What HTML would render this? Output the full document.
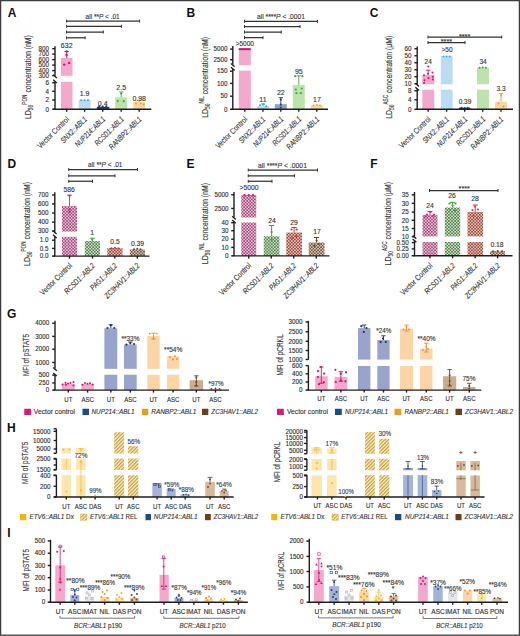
<!DOCTYPE html>
<html><head><meta charset="utf-8"><style>
html,body{margin:0;padding:0;background:#fff;width:520px;height:636px;overflow:hidden}
svg{display:block;font-family:"Liberation Sans",sans-serif}
</style></head><body>
<svg width="520" height="636" viewBox="0 0 520 636">
<defs>
<pattern id="ckM" patternUnits="userSpaceOnUse" width="3.08" height="3.08"><rect width="3.08" height="3.08" fill="#f2c3da"/><rect width="1.54" height="1.54" fill="#9a4876"/><rect x="1.54" y="1.54" width="1.54" height="1.54" fill="#9a4876"/></pattern><pattern id="ckG" patternUnits="userSpaceOnUse" width="3.08" height="3.08"><rect width="3.08" height="3.08" fill="#d3e6c9"/><rect width="1.54" height="1.54" fill="#4f7c49"/><rect x="1.54" y="1.54" width="1.54" height="1.54" fill="#4f7c49"/></pattern><pattern id="ckR" patternUnits="userSpaceOnUse" width="3.08" height="3.08"><rect width="3.08" height="3.08" fill="#f0c2b6"/><rect width="1.54" height="1.54" fill="#8f4a3f"/><rect x="1.54" y="1.54" width="1.54" height="1.54" fill="#8f4a3f"/></pattern><pattern id="ckB" patternUnits="userSpaceOnUse" width="3.08" height="3.08"><rect width="3.08" height="3.08" fill="#e0ccb5"/><rect width="1.54" height="1.54" fill="#6a5242"/><rect x="1.54" y="1.54" width="1.54" height="1.54" fill="#6a5242"/></pattern><pattern id="hatch" patternUnits="userSpaceOnUse" width="2.5" height="2.5" patternTransform="rotate(-45)"><rect width="2.5" height="2.5" fill="#f8edcc"/><rect width="2.5" height="1.15" fill="#c99c2e"/></pattern>
</defs>
<rect x="0" y="0" width="520" height="636" fill="#fff"/>
<text x="7.8" y="17.02" font-size="12" fill="#111" font-weight="bold">A</text>
<line x1="55" y1="46.3" x2="55" y2="75.8" stroke="#1e1e1e" stroke-width="1.4"/>
<line x1="53.2" y1="74.8" x2="56.8" y2="78" stroke="#1e1e1e" stroke-width="1.4"/>
<line x1="55" y1="81.5" x2="55" y2="109.3" stroke="#1e1e1e" stroke-width="1.4"/>
<line x1="53.2" y1="79.7" x2="56.8" y2="82.9" stroke="#1e1e1e" stroke-width="1.4"/>
<line x1="52.2" y1="48.7" x2="55" y2="48.7" stroke="#1e1e1e" stroke-width="1.4"/>
<text x="49.1" y="50.97" font-size="6.3" fill="#2e2e2e" stroke="#2e2e2e" stroke-width="0.12" text-anchor="end">800</text>
<line x1="52.2" y1="54.1" x2="55" y2="54.1" stroke="#1e1e1e" stroke-width="1.4"/>
<text x="49.1" y="56.37" font-size="6.3" fill="#2e2e2e" stroke="#2e2e2e" stroke-width="0.12" text-anchor="end">700</text>
<line x1="52.2" y1="59.6" x2="55" y2="59.6" stroke="#1e1e1e" stroke-width="1.4"/>
<text x="49.1" y="61.87" font-size="6.3" fill="#2e2e2e" stroke="#2e2e2e" stroke-width="0.12" text-anchor="end">600</text>
<line x1="52.2" y1="65.1" x2="55" y2="65.1" stroke="#1e1e1e" stroke-width="1.4"/>
<text x="49.1" y="67.37" font-size="6.3" fill="#2e2e2e" stroke="#2e2e2e" stroke-width="0.12" text-anchor="end">500</text>
<line x1="52.2" y1="70.6" x2="55" y2="70.6" stroke="#1e1e1e" stroke-width="1.4"/>
<text x="49.1" y="72.87" font-size="6.3" fill="#2e2e2e" stroke="#2e2e2e" stroke-width="0.12" text-anchor="end">400</text>
<line x1="52.2" y1="75.6" x2="55" y2="75.6" stroke="#1e1e1e" stroke-width="1.4"/>
<text x="49.1" y="77.87" font-size="6.3" fill="#2e2e2e" stroke="#2e2e2e" stroke-width="0.12" text-anchor="end">300</text>
<line x1="52.2" y1="82.7" x2="55" y2="82.7" stroke="#1e1e1e" stroke-width="1.4"/>
<text x="49.1" y="84.97" font-size="6.3" fill="#2e2e2e" stroke="#2e2e2e" stroke-width="0.12" text-anchor="end">6</text>
<line x1="52.2" y1="91.3" x2="55" y2="91.3" stroke="#1e1e1e" stroke-width="1.4"/>
<text x="49.1" y="93.57" font-size="6.3" fill="#2e2e2e" stroke="#2e2e2e" stroke-width="0.12" text-anchor="end">4</text>
<line x1="52.2" y1="100" x2="55" y2="100" stroke="#1e1e1e" stroke-width="1.4"/>
<text x="49.1" y="102.27" font-size="6.3" fill="#2e2e2e" stroke="#2e2e2e" stroke-width="0.12" text-anchor="end">2</text>
<line x1="52.2" y1="109.3" x2="55" y2="109.3" stroke="#1e1e1e" stroke-width="1.4"/>
<text x="49.1" y="111.57" font-size="6.3" fill="#2e2e2e" stroke="#2e2e2e" stroke-width="0.12" text-anchor="end">0</text>
<rect x="61" y="58" width="11.5" height="17.8" fill="#f4a8cc"/>
<rect x="61" y="81.8" width="11.5" height="27.5" fill="#f4a8cc"/>
<rect x="78.7" y="99.8" width="11.9" height="9.5" fill="#b9dbf4"/>
<rect x="96.8" y="106.8" width="12.5" height="2.5" fill="#1f3f7c"/>
<rect x="115.2" y="97.3" width="12" height="12" fill="#bde3ac"/>
<rect x="133.2" y="102" width="12" height="7.3" fill="#fdd7a3"/>
<line x1="53" y1="109.3" x2="151.3" y2="109.3" stroke="#1e1e1e" stroke-width="1.4"/>
<line x1="66.7" y1="109.3" x2="66.7" y2="111.8" stroke="#1e1e1e" stroke-width="1.4"/>
<line x1="84.6" y1="109.3" x2="84.6" y2="111.8" stroke="#1e1e1e" stroke-width="1.4"/>
<line x1="102.7" y1="109.3" x2="102.7" y2="111.8" stroke="#1e1e1e" stroke-width="1.4"/>
<line x1="121.2" y1="109.3" x2="121.2" y2="111.8" stroke="#1e1e1e" stroke-width="1.4"/>
<line x1="139.2" y1="109.3" x2="139.2" y2="111.8" stroke="#1e1e1e" stroke-width="1.4"/>
<line x1="66.7" y1="51.5" x2="66.7" y2="58" stroke="#d3106c" stroke-width="0.9"/>
<line x1="64.5" y1="51.5" x2="68.9" y2="51.5" stroke="#d3106c" stroke-width="0.9"/>
<circle cx="66.6" cy="51.5" r="1.2" fill="#d3106c"/>
<circle cx="66.6" cy="55" r="1.2" fill="#d3106c"/>
<circle cx="64.2" cy="64.6" r="1.2" fill="#d3106c"/>
<circle cx="69.2" cy="62.9" r="1.2" fill="#d3106c"/>
<circle cx="81.2" cy="100.2" r="1" fill="#3a9fe2"/>
<circle cx="84.6" cy="100.2" r="1" fill="#3a9fe2"/>
<circle cx="88" cy="100.2" r="1" fill="#3a9fe2"/>
<circle cx="99.2" cy="106.7" r="1.1" fill="#1f3f7c"/>
<circle cx="102.7" cy="106.9" r="1.1" fill="#1f3f7c"/>
<circle cx="106.2" cy="106.7" r="1.1" fill="#1f3f7c"/>
<line x1="121.2" y1="92" x2="121.2" y2="97.3" stroke="#43a843" stroke-width="0.9"/>
<line x1="119" y1="92" x2="123.4" y2="92" stroke="#43a843" stroke-width="0.9"/>
<circle cx="121.2" cy="93.6" r="1.1" fill="#43a843"/>
<circle cx="117.8" cy="101.2" r="1.1" fill="#43a843"/>
<circle cx="123.8" cy="101.2" r="1.1" fill="#43a843"/>
<line x1="139.2" y1="100.3" x2="139.2" y2="102" stroke="#f19a1d" stroke-width="0.9"/>
<line x1="137" y1="100.3" x2="141.4" y2="100.3" stroke="#f19a1d" stroke-width="0.9"/>
<circle cx="136" cy="103.5" r="1" fill="#f19a1d"/>
<circle cx="140.8" cy="103.5" r="1" fill="#f19a1d"/>
<circle cx="143.7" cy="104.5" r="1" fill="#f19a1d"/>
<text x="66.7" y="47.52" font-size="7" fill="#333" stroke="#333" stroke-width="0.12" text-anchor="middle">632</text>
<text x="84.6" y="96.12" font-size="7" fill="#333" stroke="#333" stroke-width="0.12" text-anchor="middle">1.9</text>
<text x="102.7" y="105.52" font-size="7" fill="#333" stroke="#333" stroke-width="0.12" text-anchor="middle">0.4</text>
<text x="121.2" y="90.12" font-size="7" fill="#333" stroke="#333" stroke-width="0.12" text-anchor="middle">2.5</text>
<text x="139.2" y="100.52" font-size="7" fill="#333" stroke="#333" stroke-width="0.12" text-anchor="middle">0.98</text>
<line x1="66.6" y1="21.1" x2="139.6" y2="21.1" stroke="#333" stroke-width="1.25"/>
<line x1="66.6" y1="19.6" x2="66.6" y2="22.6" stroke="#333" stroke-width="1"/>
<line x1="139.6" y1="19.6" x2="139.6" y2="22.6" stroke="#333" stroke-width="1"/>
<line x1="66.6" y1="26.3" x2="121.4" y2="26.3" stroke="#333" stroke-width="1.25"/>
<line x1="66.6" y1="24.8" x2="66.6" y2="27.8" stroke="#333" stroke-width="1"/>
<line x1="121.4" y1="24.8" x2="121.4" y2="27.8" stroke="#333" stroke-width="1"/>
<line x1="66.6" y1="32" x2="103.3" y2="32" stroke="#333" stroke-width="1.25"/>
<line x1="66.6" y1="30.5" x2="66.6" y2="33.5" stroke="#333" stroke-width="1"/>
<line x1="103.3" y1="30.5" x2="103.3" y2="33.5" stroke="#333" stroke-width="1"/>
<line x1="66.6" y1="37.8" x2="85.1" y2="37.8" stroke="#333" stroke-width="1.25"/>
<line x1="66.6" y1="36.3" x2="66.6" y2="39.3" stroke="#333" stroke-width="1"/>
<line x1="85.1" y1="36.3" x2="85.1" y2="39.3" stroke="#333" stroke-width="1"/>
<text x="85.6" y="18.58" font-size="6.9" fill="#333" stroke="#333" stroke-width="0.12" textLength="34.1" lengthAdjust="spacingAndGlyphs">all **<tspan font-style="italic">P</tspan> &lt; .01</text>
<text x="119" y="30.8" font-size="9.3" fill="#333" stroke="#333" stroke-width="0.12" transform="translate(30.8 119) rotate(-90) translate(-119 -30.8)" textLength="83.9" lengthAdjust="spacingAndGlyphs"><tspan>LD</tspan><tspan font-size="6.7" dy="2.23">50</tspan><tspan font-size="6.32" dy="-6.32">PON</tspan><tspan dy="4.09"> concentration (nM)</tspan></text>
<text x="69.7" y="119.8" font-size="8" fill="#333" stroke="#333" stroke-width="0.12" text-anchor="end" transform="rotate(-45 69.7 119.8)" textLength="41.24" lengthAdjust="spacingAndGlyphs">Vector Control</text>
<text x="87.6" y="119.8" font-size="8" fill="#333" stroke="#333" stroke-width="0.12" text-anchor="end" transform="rotate(-45 87.6 119.8)" textLength="33.75" lengthAdjust="spacingAndGlyphs" font-style="italic">SNX2::ABL1</text>
<text x="105.7" y="119.8" font-size="8" fill="#333" stroke="#333" stroke-width="0.12" text-anchor="end" transform="rotate(-45 105.7 119.8)" textLength="39.12" lengthAdjust="spacingAndGlyphs" font-style="italic">NUP214::ABL1</text>
<text x="124.2" y="119.8" font-size="8" fill="#333" stroke="#333" stroke-width="0.12" text-anchor="end" transform="rotate(-45 124.2 119.8)" textLength="37.28" lengthAdjust="spacingAndGlyphs" font-style="italic">RCSD1::ABL1</text>
<text x="142.2" y="119.8" font-size="8" fill="#333" stroke="#333" stroke-width="0.12" text-anchor="end" transform="rotate(-45 142.2 119.8)" textLength="42.66" lengthAdjust="spacingAndGlyphs" font-style="italic">RANBP2::ABL1</text>
<text x="186.6" y="16.92" font-size="12" fill="#111" font-weight="bold">B</text>
<line x1="232.8" y1="46" x2="232.8" y2="64.5" stroke="#1e1e1e" stroke-width="1.4"/>
<line x1="231" y1="63.5" x2="234.6" y2="66.7" stroke="#1e1e1e" stroke-width="1.4"/>
<line x1="232.8" y1="69" x2="232.8" y2="109.3" stroke="#1e1e1e" stroke-width="1.4"/>
<line x1="231" y1="67.2" x2="234.6" y2="70.4" stroke="#1e1e1e" stroke-width="1.4"/>
<line x1="230" y1="49.1" x2="232.8" y2="49.1" stroke="#1e1e1e" stroke-width="1.4"/>
<text x="227.5" y="51.37" font-size="6.3" fill="#2e2e2e" stroke="#2e2e2e" stroke-width="0.12" text-anchor="end">5000</text>
<line x1="230" y1="59.7" x2="232.8" y2="59.7" stroke="#1e1e1e" stroke-width="1.4"/>
<text x="227.5" y="61.97" font-size="6.3" fill="#2e2e2e" stroke="#2e2e2e" stroke-width="0.12" text-anchor="end">2500</text>
<line x1="230" y1="71.2" x2="232.8" y2="71.2" stroke="#1e1e1e" stroke-width="1.4"/>
<text x="227.5" y="73.47" font-size="6.3" fill="#2e2e2e" stroke="#2e2e2e" stroke-width="0.12" text-anchor="end">150</text>
<line x1="230" y1="83.4" x2="232.8" y2="83.4" stroke="#1e1e1e" stroke-width="1.4"/>
<text x="227.5" y="85.67" font-size="6.3" fill="#2e2e2e" stroke="#2e2e2e" stroke-width="0.12" text-anchor="end">100</text>
<line x1="230" y1="96.2" x2="232.8" y2="96.2" stroke="#1e1e1e" stroke-width="1.4"/>
<text x="227.5" y="98.47" font-size="6.3" fill="#2e2e2e" stroke="#2e2e2e" stroke-width="0.12" text-anchor="end">50</text>
<line x1="230" y1="109.3" x2="232.8" y2="109.3" stroke="#1e1e1e" stroke-width="1.4"/>
<text x="227.5" y="111.57" font-size="6.3" fill="#2e2e2e" stroke="#2e2e2e" stroke-width="0.12" text-anchor="end">0</text>
<rect x="238.8" y="48.2" width="12" height="17" fill="#f4a8cc"/>
<rect x="238.8" y="70.6" width="12" height="38.7" fill="#f4a8cc"/>
<rect x="238.8" y="48.2" width="12" height="1.9" fill="#d3106c"/>
<rect x="256.9" y="106.2" width="12" height="3.1" fill="#b9dbf4"/>
<rect x="274.8" y="104.2" width="12" height="5.1" fill="#8ea0c8"/>
<rect x="292.8" y="85" width="12" height="24.3" fill="#bde3ac"/>
<rect x="310.8" y="105.3" width="12" height="4" fill="#fdd7a3"/>
<line x1="231.5" y1="109.3" x2="328" y2="109.3" stroke="#1e1e1e" stroke-width="1.4"/>
<line x1="244.8" y1="109.3" x2="244.8" y2="111.8" stroke="#1e1e1e" stroke-width="1.4"/>
<line x1="262.9" y1="109.3" x2="262.9" y2="111.8" stroke="#1e1e1e" stroke-width="1.4"/>
<line x1="280.8" y1="109.3" x2="280.8" y2="111.8" stroke="#1e1e1e" stroke-width="1.4"/>
<line x1="298.8" y1="109.3" x2="298.8" y2="111.8" stroke="#1e1e1e" stroke-width="1.4"/>
<line x1="316.8" y1="109.3" x2="316.8" y2="111.8" stroke="#1e1e1e" stroke-width="1.4"/>
<line x1="262.9" y1="104" x2="262.9" y2="106.2" stroke="#3a9fe2" stroke-width="0.9"/>
<line x1="260.7" y1="104" x2="265.1" y2="104" stroke="#3a9fe2" stroke-width="0.9"/>
<circle cx="260" cy="105.2" r="1" fill="#3a9fe2"/>
<circle cx="263.5" cy="104.3" r="1" fill="#3a9fe2"/>
<circle cx="266.2" cy="106.2" r="1" fill="#3a9fe2"/>
<line x1="280.8" y1="97.7" x2="280.8" y2="104.2" stroke="#1f3f7c" stroke-width="0.9"/>
<line x1="278.6" y1="97.7" x2="283" y2="97.7" stroke="#1f3f7c" stroke-width="0.9"/>
<circle cx="280.8" cy="99.6" r="1.1" fill="#1f3f7c"/>
<circle cx="280.8" cy="104.6" r="1.1" fill="#1f3f7c"/>
<circle cx="280.8" cy="107.6" r="1.1" fill="#1f3f7c"/>
<line x1="298.8" y1="75.8" x2="298.8" y2="85" stroke="#43a843" stroke-width="0.9"/>
<line x1="296.6" y1="75.8" x2="301" y2="75.8" stroke="#43a843" stroke-width="0.9"/>
<circle cx="295.2" cy="76.2" r="1.1" fill="#43a843"/>
<circle cx="302.4" cy="76.2" r="1.1" fill="#43a843"/>
<circle cx="295.8" cy="89.5" r="1.1" fill="#43a843"/>
<circle cx="301.8" cy="88.5" r="1.1" fill="#43a843"/>
<circle cx="296.5" cy="93.2" r="1.1" fill="#43a843"/>
<circle cx="300.8" cy="93.2" r="1.1" fill="#43a843"/>
<circle cx="313.5" cy="105.6" r="1" fill="#f19a1d"/>
<circle cx="316.8" cy="105" r="1" fill="#f19a1d"/>
<circle cx="320" cy="105.6" r="1" fill="#f19a1d"/>
<text x="244.8" y="45.74" font-size="6.5" fill="#333" stroke="#333" stroke-width="0.12" text-anchor="middle">&gt;5000</text>
<text x="263" y="101.72" font-size="7" fill="#333" stroke="#333" stroke-width="0.12" text-anchor="middle">11</text>
<text x="280.8" y="94.82" font-size="7" fill="#333" stroke="#333" stroke-width="0.12" text-anchor="middle">22</text>
<text x="298.8" y="74.02" font-size="7" fill="#333" stroke="#333" stroke-width="0.12" text-anchor="middle">95</text>
<text x="317" y="101.72" font-size="7" fill="#333" stroke="#333" stroke-width="0.12" text-anchor="middle">17</text>
<line x1="244.5" y1="21.3" x2="317.5" y2="21.3" stroke="#333" stroke-width="1.25"/>
<line x1="244.5" y1="19.8" x2="244.5" y2="22.8" stroke="#333" stroke-width="1"/>
<line x1="317.5" y1="19.8" x2="317.5" y2="22.8" stroke="#333" stroke-width="1"/>
<line x1="244.5" y1="26.5" x2="300" y2="26.5" stroke="#333" stroke-width="1.25"/>
<line x1="244.5" y1="25" x2="244.5" y2="28" stroke="#333" stroke-width="1"/>
<line x1="300" y1="25" x2="300" y2="28" stroke="#333" stroke-width="1"/>
<line x1="244.5" y1="32" x2="281.3" y2="32" stroke="#333" stroke-width="1.25"/>
<line x1="244.5" y1="30.5" x2="244.5" y2="33.5" stroke="#333" stroke-width="1"/>
<line x1="281.3" y1="30.5" x2="281.3" y2="33.5" stroke="#333" stroke-width="1"/>
<line x1="244.5" y1="37.6" x2="263" y2="37.6" stroke="#333" stroke-width="1.25"/>
<line x1="244.5" y1="36.1" x2="244.5" y2="39.1" stroke="#333" stroke-width="1"/>
<line x1="263" y1="36.1" x2="263" y2="39.1" stroke="#333" stroke-width="1"/>
<text x="257" y="18.58" font-size="6.9" fill="#333" stroke="#333" stroke-width="0.12" textLength="48" lengthAdjust="spacingAndGlyphs">all ****<tspan font-style="italic">P</tspan> &lt; .0001</text>
<text x="117.8" y="207.9" font-size="9.3" fill="#333" stroke="#333" stroke-width="0.12" transform="translate(207.9 117.8) rotate(-90) translate(-117.8 -207.9)" textLength="80.8" lengthAdjust="spacingAndGlyphs"><tspan>LD</tspan><tspan font-size="6.7" dy="2.23">50</tspan><tspan font-size="6.32" dy="-6.32">NIL</tspan><tspan dy="4.09"> concentration (nM)</tspan></text>
<text x="247.8" y="119.8" font-size="8" fill="#333" stroke="#333" stroke-width="0.12" text-anchor="end" transform="rotate(-45 247.8 119.8)" textLength="41.24" lengthAdjust="spacingAndGlyphs">Vector Control</text>
<text x="265.9" y="119.8" font-size="8" fill="#333" stroke="#333" stroke-width="0.12" text-anchor="end" transform="rotate(-45 265.9 119.8)" textLength="33.75" lengthAdjust="spacingAndGlyphs" font-style="italic">SNX2::ABL1</text>
<text x="283.8" y="119.8" font-size="8" fill="#333" stroke="#333" stroke-width="0.12" text-anchor="end" transform="rotate(-45 283.8 119.8)" textLength="39.12" lengthAdjust="spacingAndGlyphs" font-style="italic">NUP214::ABL1</text>
<text x="301.8" y="119.8" font-size="8" fill="#333" stroke="#333" stroke-width="0.12" text-anchor="end" transform="rotate(-45 301.8 119.8)" textLength="37.28" lengthAdjust="spacingAndGlyphs" font-style="italic">RCSD1::ABL1</text>
<text x="319.8" y="119.8" font-size="8" fill="#333" stroke="#333" stroke-width="0.12" text-anchor="end" transform="rotate(-45 319.8 119.8)" textLength="42.66" lengthAdjust="spacingAndGlyphs" font-style="italic">RANBP2::ABL1</text>
<text x="369.7" y="16.92" font-size="12" fill="#111" font-weight="bold">C</text>
<line x1="417.2" y1="46.5" x2="417.2" y2="84.3" stroke="#1e1e1e" stroke-width="1.4"/>
<line x1="415.4" y1="83.3" x2="419" y2="86.5" stroke="#1e1e1e" stroke-width="1.4"/>
<line x1="417.2" y1="89" x2="417.2" y2="109.3" stroke="#1e1e1e" stroke-width="1.4"/>
<line x1="415.4" y1="87.2" x2="419" y2="90.4" stroke="#1e1e1e" stroke-width="1.4"/>
<line x1="414.4" y1="48.75" x2="417.2" y2="48.75" stroke="#1e1e1e" stroke-width="1.4"/>
<text x="411.5" y="51.02" font-size="6.3" fill="#2e2e2e" stroke="#2e2e2e" stroke-width="0.12" text-anchor="end">60</text>
<line x1="414.4" y1="55.75" x2="417.2" y2="55.75" stroke="#1e1e1e" stroke-width="1.4"/>
<text x="411.5" y="58.02" font-size="6.3" fill="#2e2e2e" stroke="#2e2e2e" stroke-width="0.12" text-anchor="end">50</text>
<line x1="414.4" y1="62.75" x2="417.2" y2="62.75" stroke="#1e1e1e" stroke-width="1.4"/>
<text x="411.5" y="65.02" font-size="6.3" fill="#2e2e2e" stroke="#2e2e2e" stroke-width="0.12" text-anchor="end">40</text>
<line x1="414.4" y1="69.75" x2="417.2" y2="69.75" stroke="#1e1e1e" stroke-width="1.4"/>
<text x="411.5" y="72.02" font-size="6.3" fill="#2e2e2e" stroke="#2e2e2e" stroke-width="0.12" text-anchor="end">30</text>
<line x1="414.4" y1="76.75" x2="417.2" y2="76.75" stroke="#1e1e1e" stroke-width="1.4"/>
<text x="411.5" y="79.02" font-size="6.3" fill="#2e2e2e" stroke="#2e2e2e" stroke-width="0.12" text-anchor="end">20</text>
<line x1="414.4" y1="83.75" x2="417.2" y2="83.75" stroke="#1e1e1e" stroke-width="1.4"/>
<text x="411.5" y="86.02" font-size="6.3" fill="#2e2e2e" stroke="#2e2e2e" stroke-width="0.12" text-anchor="end">10</text>
<line x1="414.4" y1="90.75" x2="417.2" y2="90.75" stroke="#1e1e1e" stroke-width="1.4"/>
<text x="411.5" y="93.02" font-size="6.3" fill="#2e2e2e" stroke="#2e2e2e" stroke-width="0.12" text-anchor="end">8</text>
<line x1="414.4" y1="99.75" x2="417.2" y2="99.75" stroke="#1e1e1e" stroke-width="1.4"/>
<text x="411.5" y="102.02" font-size="6.3" fill="#2e2e2e" stroke="#2e2e2e" stroke-width="0.12" text-anchor="end">4</text>
<line x1="414.4" y1="109.3" x2="417.2" y2="109.3" stroke="#1e1e1e" stroke-width="1.4"/>
<text x="411.5" y="111.57" font-size="6.3" fill="#2e2e2e" stroke="#2e2e2e" stroke-width="0.12" text-anchor="end">0</text>
<rect x="422.3" y="75" width="12" height="9.3" fill="#f4a8cc"/>
<rect x="422.3" y="89.7" width="12" height="19.6" fill="#f4a8cc"/>
<rect x="440.8" y="56.2" width="11.8" height="28.1" fill="#b9dbf4"/>
<rect x="440.8" y="89.7" width="11.8" height="19.6" fill="#b9dbf4"/>
<rect x="458.9" y="107.6" width="11.6" height="1.7" fill="#1f3f7c"/>
<rect x="477" y="67.6" width="12" height="16.7" fill="#bde3ac"/>
<rect x="477" y="89.7" width="12" height="19.6" fill="#bde3ac"/>
<rect x="495" y="101.9" width="12" height="7.4" fill="#fdd7a3"/>
<line x1="415.8" y1="109.3" x2="513" y2="109.3" stroke="#1e1e1e" stroke-width="1.4"/>
<line x1="428.2" y1="109.3" x2="428.2" y2="111.8" stroke="#1e1e1e" stroke-width="1.4"/>
<line x1="446.6" y1="109.3" x2="446.6" y2="111.8" stroke="#1e1e1e" stroke-width="1.4"/>
<line x1="464.7" y1="109.3" x2="464.7" y2="111.8" stroke="#1e1e1e" stroke-width="1.4"/>
<line x1="482.7" y1="109.3" x2="482.7" y2="111.8" stroke="#1e1e1e" stroke-width="1.4"/>
<line x1="501" y1="109.3" x2="501" y2="111.8" stroke="#1e1e1e" stroke-width="1.4"/>
<line x1="428.2" y1="70.2" x2="428.2" y2="74.5" stroke="#d3106c" stroke-width="0.9"/>
<line x1="426" y1="70.2" x2="430.4" y2="70.2" stroke="#d3106c" stroke-width="0.9"/>
<circle cx="428.2" cy="66.6" r="1" fill="#d3106c"/>
<circle cx="424" cy="75.3" r="1" fill="#d3106c"/>
<circle cx="428" cy="73.8" r="1" fill="#d3106c"/>
<circle cx="432.5" cy="72.4" r="1" fill="#d3106c"/>
<circle cx="424.5" cy="80.3" r="1" fill="#d3106c"/>
<circle cx="428.5" cy="78.1" r="1" fill="#d3106c"/>
<circle cx="432.8" cy="76.7" r="1" fill="#d3106c"/>
<circle cx="432.8" cy="79.5" r="1" fill="#d3106c"/>
<circle cx="424" cy="83" r="1" fill="#d3106c"/>
<circle cx="443.5" cy="56.4" r="0.9" fill="#3a9fe2"/>
<circle cx="446.6" cy="56.4" r="0.9" fill="#3a9fe2"/>
<circle cx="449.7" cy="56.4" r="0.9" fill="#3a9fe2"/>
<circle cx="461.5" cy="107.6" r="0.9" fill="#1f3f7c"/>
<circle cx="464.7" cy="107.8" r="0.9" fill="#1f3f7c"/>
<circle cx="467.8" cy="107.6" r="0.9" fill="#1f3f7c"/>
<circle cx="479.6" cy="67.8" r="1" fill="#43a843"/>
<circle cx="482.7" cy="67.6" r="1" fill="#43a843"/>
<circle cx="485.8" cy="67.8" r="1" fill="#43a843"/>
<line x1="501" y1="93.6" x2="501" y2="101.9" stroke="#f19a1d" stroke-width="0.9"/>
<line x1="498.8" y1="93.6" x2="503.2" y2="93.6" stroke="#f19a1d" stroke-width="0.9"/>
<circle cx="501" cy="95.6" r="1" fill="#f19a1d"/>
<circle cx="498.5" cy="103.5" r="1" fill="#f19a1d"/>
<circle cx="503.5" cy="106.5" r="1" fill="#f19a1d"/>
<text x="428.2" y="64.34" font-size="6.5" fill="#333" stroke="#333" stroke-width="0.12" text-anchor="middle">24</text>
<text x="447" y="52.04" font-size="6.5" fill="#333" stroke="#333" stroke-width="0.12" text-anchor="middle">&gt;50</text>
<text x="465" y="103.54" font-size="6.5" fill="#333" stroke="#333" stroke-width="0.12" text-anchor="middle">0.39</text>
<text x="483" y="64.34" font-size="6.5" fill="#333" stroke="#333" stroke-width="0.12" text-anchor="middle">34</text>
<text x="501" y="91.34" font-size="6.5" fill="#333" stroke="#333" stroke-width="0.12" text-anchor="middle">3.3</text>
<line x1="428" y1="37" x2="501.7" y2="37" stroke="#333" stroke-width="1.25"/>
<line x1="428" y1="35.5" x2="428" y2="38.5" stroke="#333" stroke-width="1"/>
<line x1="501.7" y1="35.5" x2="501.7" y2="38.5" stroke="#333" stroke-width="1"/>
<line x1="428" y1="42.5" x2="465" y2="42.5" stroke="#333" stroke-width="1.25"/>
<line x1="428" y1="41" x2="428" y2="44" stroke="#333" stroke-width="1"/>
<line x1="465" y1="41" x2="465" y2="44" stroke="#333" stroke-width="1"/>
<text x="464.6" y="38.6" font-size="7.2" fill="#333" stroke="#333" stroke-width="0.12" text-anchor="middle" textLength="11.2" lengthAdjust="spacingAndGlyphs">****</text>
<text x="446.4" y="44" font-size="7.2" fill="#333" stroke="#333" stroke-width="0.12" text-anchor="middle" textLength="11.2" lengthAdjust="spacingAndGlyphs">****</text>
<text x="118.8" y="391.8" font-size="9.3" fill="#333" stroke="#333" stroke-width="0.12" transform="translate(391.8 118.8) rotate(-90) translate(-118.8 -391.8)" textLength="83" lengthAdjust="spacingAndGlyphs"><tspan>LD</tspan><tspan font-size="6.7" dy="2.23">50</tspan><tspan font-size="6.32" dy="-6.32">ASC</tspan><tspan dy="4.09"> concentration (μM)</tspan></text>
<text x="431.2" y="119.8" font-size="8" fill="#333" stroke="#333" stroke-width="0.12" text-anchor="end" transform="rotate(-45 431.2 119.8)" textLength="40.89" lengthAdjust="spacingAndGlyphs">Vector Control</text>
<text x="449.6" y="119.8" font-size="8" fill="#333" stroke="#333" stroke-width="0.12" text-anchor="end" transform="rotate(-45 449.6 119.8)" textLength="33.82" lengthAdjust="spacingAndGlyphs" font-style="italic">SNX2::ABL1</text>
<text x="467.7" y="119.8" font-size="8" fill="#333" stroke="#333" stroke-width="0.12" text-anchor="end" transform="rotate(-45 467.7 119.8)" textLength="39.12" lengthAdjust="spacingAndGlyphs" font-style="italic">NUP214::ABL1</text>
<text x="485.7" y="119.8" font-size="8" fill="#333" stroke="#333" stroke-width="0.12" text-anchor="end" transform="rotate(-45 485.7 119.8)" textLength="37.35" lengthAdjust="spacingAndGlyphs" font-style="italic">RCSD1::ABL1</text>
<text x="504" y="119.8" font-size="8" fill="#333" stroke="#333" stroke-width="0.12" text-anchor="end" transform="rotate(-45 504 119.8)" textLength="42.66" lengthAdjust="spacingAndGlyphs" font-style="italic">RANBP2::ABL1</text>
<text x="7.5" y="167.92" font-size="12" fill="#111" font-weight="bold">D</text>
<line x1="54.8" y1="192.3" x2="54.8" y2="231.8" stroke="#1e1e1e" stroke-width="1.4"/>
<line x1="53" y1="230.8" x2="56.6" y2="234" stroke="#1e1e1e" stroke-width="1.4"/>
<line x1="54.8" y1="236.5" x2="54.8" y2="256.1" stroke="#1e1e1e" stroke-width="1.4"/>
<line x1="53" y1="234.7" x2="56.6" y2="237.9" stroke="#1e1e1e" stroke-width="1.4"/>
<line x1="52" y1="195" x2="54.8" y2="195" stroke="#1e1e1e" stroke-width="1.4"/>
<text x="48.6" y="197.27" font-size="6.3" fill="#2e2e2e" stroke="#2e2e2e" stroke-width="0.12" text-anchor="end">700</text>
<line x1="52" y1="203.9" x2="54.8" y2="203.9" stroke="#1e1e1e" stroke-width="1.4"/>
<text x="48.6" y="206.17" font-size="6.3" fill="#2e2e2e" stroke="#2e2e2e" stroke-width="0.12" text-anchor="end">600</text>
<line x1="52" y1="213" x2="54.8" y2="213" stroke="#1e1e1e" stroke-width="1.4"/>
<text x="48.6" y="215.27" font-size="6.3" fill="#2e2e2e" stroke="#2e2e2e" stroke-width="0.12" text-anchor="end">500</text>
<line x1="52" y1="222.1" x2="54.8" y2="222.1" stroke="#1e1e1e" stroke-width="1.4"/>
<text x="48.6" y="224.37" font-size="6.3" fill="#2e2e2e" stroke="#2e2e2e" stroke-width="0.12" text-anchor="end">400</text>
<line x1="52" y1="231" x2="54.8" y2="231" stroke="#1e1e1e" stroke-width="1.4"/>
<text x="48.6" y="233.27" font-size="6.3" fill="#2e2e2e" stroke="#2e2e2e" stroke-width="0.12" text-anchor="end">300</text>
<line x1="52" y1="240.2" x2="54.8" y2="240.2" stroke="#1e1e1e" stroke-width="1.4"/>
<text x="48.6" y="242.47" font-size="6.3" fill="#2e2e2e" stroke="#2e2e2e" stroke-width="0.12" text-anchor="end">1.0</text>
<line x1="52" y1="248.4" x2="54.8" y2="248.4" stroke="#1e1e1e" stroke-width="1.4"/>
<text x="48.6" y="250.67" font-size="6.3" fill="#2e2e2e" stroke="#2e2e2e" stroke-width="0.12" text-anchor="end">0.5</text>
<line x1="52" y1="256.1" x2="54.8" y2="256.1" stroke="#1e1e1e" stroke-width="1.4"/>
<text x="48.6" y="258.37" font-size="6.3" fill="#2e2e2e" stroke="#2e2e2e" stroke-width="0.12" text-anchor="end">0.0</text>
<rect x="62" y="206" width="15" height="25.6" fill="url(#ckM)"/>
<rect x="62" y="236.8" width="15" height="19.3" fill="url(#ckM)"/>
<rect x="84.8" y="241" width="15.2" height="15.1" fill="url(#ckG)"/>
<rect x="107.3" y="248" width="15.2" height="8.1" fill="url(#ckR)"/>
<rect x="129.8" y="249.5" width="15.2" height="6.6" fill="url(#ckB)"/>
<line x1="53.5" y1="256.1" x2="149.5" y2="256.1" stroke="#1e1e1e" stroke-width="1.4"/>
<line x1="69.5" y1="256.1" x2="69.5" y2="258.6" stroke="#1e1e1e" stroke-width="1.4"/>
<line x1="92.5" y1="256.1" x2="92.5" y2="258.6" stroke="#1e1e1e" stroke-width="1.4"/>
<line x1="114.8" y1="256.1" x2="114.8" y2="258.6" stroke="#1e1e1e" stroke-width="1.4"/>
<line x1="137.3" y1="256.1" x2="137.3" y2="258.6" stroke="#1e1e1e" stroke-width="1.4"/>
<line x1="69.5" y1="195.2" x2="69.5" y2="206" stroke="#e0207e" stroke-width="0.9"/>
<line x1="67.1" y1="195.2" x2="71.9" y2="195.2" stroke="#e0207e" stroke-width="0.9"/>
<circle cx="69.5" cy="195.6" r="1.2" fill="#e0207e"/>
<circle cx="69.5" cy="209.5" r="1.2" fill="#e0207e"/>
<circle cx="69.5" cy="212" r="1.2" fill="#e0207e"/>
<line x1="92.3" y1="238.2" x2="92.3" y2="241" stroke="#3aa53a" stroke-width="1"/>
<line x1="89.8" y1="238.2" x2="94.8" y2="238.2" stroke="#3aa53a" stroke-width="1"/>
<circle cx="92.3" cy="239.5" r="1.1" fill="#3aa53a"/>
<circle cx="111.5" cy="248.3" r="1" fill="#e03040"/>
<circle cx="115" cy="247.7" r="1" fill="#e03040"/>
<circle cx="118.5" cy="248.3" r="1" fill="#e03040"/>
<circle cx="134" cy="249.3" r="1" fill="#6a4020"/>
<circle cx="137.3" cy="248.8" r="1" fill="#6a4020"/>
<circle cx="140.5" cy="249.3" r="1" fill="#6a4020"/>
<text x="69.1" y="191.95" font-size="6.8" fill="#333" stroke="#333" stroke-width="0.12" text-anchor="middle">586</text>
<text x="92.2" y="235.05" font-size="6.8" fill="#333" stroke="#333" stroke-width="0.12" text-anchor="middle">1</text>
<text x="115" y="243.85" font-size="6.8" fill="#333" stroke="#333" stroke-width="0.12" text-anchor="middle">0.5</text>
<text x="137.5" y="246.05" font-size="6.8" fill="#333" stroke="#333" stroke-width="0.12" text-anchor="middle">0.39</text>
<line x1="68.75" y1="169.5" x2="137.5" y2="169.5" stroke="#333" stroke-width="1.25"/>
<line x1="68.75" y1="168" x2="68.75" y2="171" stroke="#333" stroke-width="1"/>
<line x1="137.5" y1="168" x2="137.5" y2="171" stroke="#333" stroke-width="1"/>
<line x1="68.75" y1="175.75" x2="115" y2="175.75" stroke="#333" stroke-width="1.25"/>
<line x1="68.75" y1="174.25" x2="68.75" y2="177.25" stroke="#333" stroke-width="1"/>
<line x1="115" y1="174.25" x2="115" y2="177.25" stroke="#333" stroke-width="1"/>
<line x1="68.75" y1="181.25" x2="92.5" y2="181.25" stroke="#333" stroke-width="1.25"/>
<line x1="68.75" y1="179.75" x2="68.75" y2="182.75" stroke="#333" stroke-width="1"/>
<line x1="92.5" y1="179.75" x2="92.5" y2="182.75" stroke="#333" stroke-width="1"/>
<text x="88" y="167.28" font-size="6.9" fill="#333" stroke="#333" stroke-width="0.12" textLength="34.5" lengthAdjust="spacingAndGlyphs">all **<tspan font-style="italic">P</tspan> &lt; .01</text>
<text x="265.9" y="29.9" font-size="9.3" fill="#333" stroke="#333" stroke-width="0.12" transform="translate(29.9 265.9) rotate(-90) translate(-265.9 -29.9)" textLength="83.9" lengthAdjust="spacingAndGlyphs"><tspan>LD</tspan><tspan font-size="6.7" dy="2.23">50</tspan><tspan font-size="6.32" dy="-6.32">PON</tspan><tspan dy="4.09"> concentration (nM)</tspan></text>
<text x="72.5" y="266.3" font-size="8" fill="#333" stroke="#333" stroke-width="0.12" text-anchor="end" transform="rotate(-45 72.5 266.3)" textLength="41.66" lengthAdjust="spacingAndGlyphs">Vector Control</text>
<text x="95.5" y="266.3" font-size="8" fill="#333" stroke="#333" stroke-width="0.12" text-anchor="end" transform="rotate(-45 95.5 266.3)" textLength="39.89" lengthAdjust="spacingAndGlyphs" font-style="italic">RCSD1::ABL2</text>
<text x="117.8" y="266.3" font-size="8" fill="#333" stroke="#333" stroke-width="0.12" text-anchor="end" transform="rotate(-45 117.8 266.3)" textLength="34.59" lengthAdjust="spacingAndGlyphs" font-style="italic">PAG1::ABL2</text>
<text x="140.3" y="266.3" font-size="8" fill="#333" stroke="#333" stroke-width="0.12" text-anchor="end" transform="rotate(-45 140.3 266.3)" textLength="46.26" lengthAdjust="spacingAndGlyphs" font-style="italic">ZC3HAV1::ABL2</text>
<text x="186.4" y="168.02" font-size="12" fill="#111" font-weight="bold">E</text>
<line x1="234" y1="192" x2="234" y2="217.3" stroke="#1e1e1e" stroke-width="1.4"/>
<line x1="232.2" y1="216.3" x2="235.8" y2="219.5" stroke="#1e1e1e" stroke-width="1.4"/>
<line x1="234" y1="221.8" x2="234" y2="255.9" stroke="#1e1e1e" stroke-width="1.4"/>
<line x1="232.2" y1="220" x2="235.8" y2="223.2" stroke="#1e1e1e" stroke-width="1.4"/>
<line x1="231.2" y1="194.8" x2="234" y2="194.8" stroke="#1e1e1e" stroke-width="1.4"/>
<text x="228.5" y="197.07" font-size="6.3" fill="#2e2e2e" stroke="#2e2e2e" stroke-width="0.12" text-anchor="end">5000</text>
<line x1="231.2" y1="208.5" x2="234" y2="208.5" stroke="#1e1e1e" stroke-width="1.4"/>
<text x="228.5" y="210.77" font-size="6.3" fill="#2e2e2e" stroke="#2e2e2e" stroke-width="0.12" text-anchor="end">2500</text>
<line x1="231.2" y1="222.7" x2="234" y2="222.7" stroke="#1e1e1e" stroke-width="1.4"/>
<text x="228.5" y="224.97" font-size="6.3" fill="#2e2e2e" stroke="#2e2e2e" stroke-width="0.12" text-anchor="end">40</text>
<line x1="231.2" y1="230.7" x2="234" y2="230.7" stroke="#1e1e1e" stroke-width="1.4"/>
<text x="228.5" y="232.97" font-size="6.3" fill="#2e2e2e" stroke="#2e2e2e" stroke-width="0.12" text-anchor="end">30</text>
<line x1="231.2" y1="239.2" x2="234" y2="239.2" stroke="#1e1e1e" stroke-width="1.4"/>
<text x="228.5" y="241.47" font-size="6.3" fill="#2e2e2e" stroke="#2e2e2e" stroke-width="0.12" text-anchor="end">20</text>
<line x1="231.2" y1="247.4" x2="234" y2="247.4" stroke="#1e1e1e" stroke-width="1.4"/>
<text x="228.5" y="249.67" font-size="6.3" fill="#2e2e2e" stroke="#2e2e2e" stroke-width="0.12" text-anchor="end">10</text>
<line x1="231.2" y1="255.8" x2="234" y2="255.8" stroke="#1e1e1e" stroke-width="1.4"/>
<text x="228.5" y="258.07" font-size="6.3" fill="#2e2e2e" stroke="#2e2e2e" stroke-width="0.12" text-anchor="end">0</text>
<rect x="241.25" y="195" width="15" height="22.5" fill="url(#ckM)"/>
<rect x="241.25" y="222.5" width="15" height="33.4" fill="url(#ckM)"/>
<rect x="263.75" y="236.25" width="15.75" height="19.65" fill="url(#ckG)"/>
<rect x="286.25" y="232.5" width="15.75" height="23.4" fill="url(#ckR)"/>
<rect x="308.75" y="242.5" width="15.75" height="13.4" fill="url(#ckB)"/>
<line x1="232.8" y1="255.9" x2="329.5" y2="255.9" stroke="#1e1e1e" stroke-width="1.4"/>
<line x1="248.75" y1="255.9" x2="248.75" y2="258.4" stroke="#1e1e1e" stroke-width="1.4"/>
<line x1="271.25" y1="255.9" x2="271.25" y2="258.4" stroke="#1e1e1e" stroke-width="1.4"/>
<line x1="293.75" y1="255.9" x2="293.75" y2="258.4" stroke="#1e1e1e" stroke-width="1.4"/>
<line x1="316.25" y1="255.9" x2="316.25" y2="258.4" stroke="#1e1e1e" stroke-width="1.4"/>
<circle cx="244.5" cy="195.3" r="1.2" fill="#e0207e"/>
<circle cx="248.75" cy="195.3" r="1.2" fill="#e0207e"/>
<circle cx="253" cy="195.3" r="1.2" fill="#e0207e"/>
<line x1="271.6" y1="225.5" x2="271.6" y2="236.25" stroke="#3aa53a" stroke-width="1"/>
<line x1="269" y1="225.5" x2="274.2" y2="225.5" stroke="#3aa53a" stroke-width="1"/>
<circle cx="271.6" cy="232" r="1.1" fill="#3aa53a"/>
<circle cx="271.6" cy="240" r="1.1" fill="#3aa53a"/>
<line x1="294.1" y1="227.5" x2="294.1" y2="232.5" stroke="#e03040" stroke-width="1"/>
<line x1="291.5" y1="227.5" x2="296.7" y2="227.5" stroke="#e03040" stroke-width="1"/>
<circle cx="291.5" cy="229.5" r="1.1" fill="#e03040"/>
<circle cx="296.7" cy="229.5" r="1.1" fill="#e03040"/>
<circle cx="292.5" cy="238" r="1.1" fill="#e03040"/>
<circle cx="296" cy="236" r="1.1" fill="#e03040"/>
<line x1="316.6" y1="237.5" x2="316.6" y2="242.5" stroke="#6a4020" stroke-width="1"/>
<line x1="314" y1="237.5" x2="319.2" y2="237.5" stroke="#6a4020" stroke-width="1"/>
<circle cx="316.6" cy="240.5" r="1" fill="#6a4020"/>
<circle cx="314.5" cy="246" r="1" fill="#6a4020"/>
<circle cx="318.8" cy="244" r="1" fill="#6a4020"/>
<text x="249" y="189.95" font-size="6.8" fill="#333" stroke="#333" stroke-width="0.12" text-anchor="middle">&gt;5000</text>
<text x="272" y="222.95" font-size="6.8" fill="#333" stroke="#333" stroke-width="0.12" text-anchor="middle">24</text>
<text x="294" y="224.95" font-size="6.8" fill="#333" stroke="#333" stroke-width="0.12" text-anchor="middle">29</text>
<text x="317" y="233.7" font-size="6.8" fill="#333" stroke="#333" stroke-width="0.12" text-anchor="middle">17</text>
<line x1="248.25" y1="170" x2="317.5" y2="170" stroke="#333" stroke-width="1.25"/>
<line x1="248.25" y1="168.5" x2="248.25" y2="171.5" stroke="#333" stroke-width="1"/>
<line x1="317.5" y1="168.5" x2="317.5" y2="171.5" stroke="#333" stroke-width="1"/>
<line x1="248.25" y1="175.75" x2="294.5" y2="175.75" stroke="#333" stroke-width="1.25"/>
<line x1="248.25" y1="174.25" x2="248.25" y2="177.25" stroke="#333" stroke-width="1"/>
<line x1="294.5" y1="174.25" x2="294.5" y2="177.25" stroke="#333" stroke-width="1"/>
<line x1="248.25" y1="181.25" x2="272" y2="181.25" stroke="#333" stroke-width="1.25"/>
<line x1="248.25" y1="179.75" x2="248.25" y2="182.75" stroke="#333" stroke-width="1"/>
<line x1="272" y1="179.75" x2="272" y2="182.75" stroke="#333" stroke-width="1"/>
<text x="258" y="168.08" font-size="6.9" fill="#333" stroke="#333" stroke-width="0.12" textLength="49" lengthAdjust="spacingAndGlyphs">all ****<tspan font-style="italic">P</tspan> &lt; .0001</text>
<text x="264.2" y="207.9" font-size="9.3" fill="#333" stroke="#333" stroke-width="0.12" transform="translate(207.9 264.2) rotate(-90) translate(-264.2 -207.9)" textLength="81.2" lengthAdjust="spacingAndGlyphs"><tspan>LD</tspan><tspan font-size="6.7" dy="2.23">50</tspan><tspan font-size="6.32" dy="-6.32">NIL</tspan><tspan dy="4.09"> concentration (nM)</tspan></text>
<text x="251.75" y="266.3" font-size="8" fill="#333" stroke="#333" stroke-width="0.12" text-anchor="end" transform="rotate(-45 251.75 266.3)" textLength="41.66" lengthAdjust="spacingAndGlyphs">Vector Control</text>
<text x="274.25" y="266.3" font-size="8" fill="#333" stroke="#333" stroke-width="0.12" text-anchor="end" transform="rotate(-45 274.25 266.3)" textLength="39.89" lengthAdjust="spacingAndGlyphs" font-style="italic">RCSD1::ABL2</text>
<text x="296.75" y="266.3" font-size="8" fill="#333" stroke="#333" stroke-width="0.12" text-anchor="end" transform="rotate(-45 296.75 266.3)" textLength="34.59" lengthAdjust="spacingAndGlyphs" font-style="italic">PAG1::ABL2</text>
<text x="319.25" y="266.3" font-size="8" fill="#333" stroke="#333" stroke-width="0.12" text-anchor="end" transform="rotate(-45 319.25 266.3)" textLength="46.26" lengthAdjust="spacingAndGlyphs" font-style="italic">ZC3HAV1::ABL2</text>
<text x="370.3" y="168.22" font-size="12" fill="#111" font-weight="bold">F</text>
<line x1="414.5" y1="192" x2="414.5" y2="236.6" stroke="#1e1e1e" stroke-width="1.4"/>
<line x1="412.7" y1="235.6" x2="416.3" y2="238.8" stroke="#1e1e1e" stroke-width="1.4"/>
<line x1="414.5" y1="240.8" x2="414.5" y2="255.8" stroke="#1e1e1e" stroke-width="1.4"/>
<line x1="412.7" y1="239" x2="416.3" y2="242.2" stroke="#1e1e1e" stroke-width="1.4"/>
<line x1="411.7" y1="194.8" x2="414.5" y2="194.8" stroke="#1e1e1e" stroke-width="1.4"/>
<text x="408.8" y="197.07" font-size="6.3" fill="#2e2e2e" stroke="#2e2e2e" stroke-width="0.12" text-anchor="end">35</text>
<line x1="411.7" y1="203.3" x2="414.5" y2="203.3" stroke="#1e1e1e" stroke-width="1.4"/>
<text x="408.8" y="205.57" font-size="6.3" fill="#2e2e2e" stroke="#2e2e2e" stroke-width="0.12" text-anchor="end">30</text>
<line x1="411.7" y1="212.1" x2="414.5" y2="212.1" stroke="#1e1e1e" stroke-width="1.4"/>
<text x="408.8" y="214.37" font-size="6.3" fill="#2e2e2e" stroke="#2e2e2e" stroke-width="0.12" text-anchor="end">25</text>
<line x1="411.7" y1="220.3" x2="414.5" y2="220.3" stroke="#1e1e1e" stroke-width="1.4"/>
<text x="408.8" y="222.57" font-size="6.3" fill="#2e2e2e" stroke="#2e2e2e" stroke-width="0.12" text-anchor="end">20</text>
<line x1="411.7" y1="228.5" x2="414.5" y2="228.5" stroke="#1e1e1e" stroke-width="1.4"/>
<text x="408.8" y="230.77" font-size="6.3" fill="#2e2e2e" stroke="#2e2e2e" stroke-width="0.12" text-anchor="end">15</text>
<line x1="411.7" y1="236.8" x2="414.5" y2="236.8" stroke="#1e1e1e" stroke-width="1.4"/>
<text x="408.8" y="239.07" font-size="6.3" fill="#2e2e2e" stroke="#2e2e2e" stroke-width="0.12" text-anchor="end">10</text>
<line x1="411.7" y1="242.6" x2="414.5" y2="242.6" stroke="#1e1e1e" stroke-width="1.4"/>
<text x="408.8" y="244.87" font-size="6.3" fill="#2e2e2e" stroke="#2e2e2e" stroke-width="0.12" text-anchor="end">0.50</text>
<line x1="411.7" y1="248.9" x2="414.5" y2="248.9" stroke="#1e1e1e" stroke-width="1.4"/>
<text x="408.8" y="251.17" font-size="6.3" fill="#2e2e2e" stroke="#2e2e2e" stroke-width="0.12" text-anchor="end">0.25</text>
<line x1="411.7" y1="255.7" x2="414.5" y2="255.7" stroke="#1e1e1e" stroke-width="1.4"/>
<text x="408.8" y="257.97" font-size="6.3" fill="#2e2e2e" stroke="#2e2e2e" stroke-width="0.12" text-anchor="end">0.00</text>
<rect x="422.5" y="215" width="15" height="21.4" fill="url(#ckM)"/>
<rect x="422.5" y="242" width="15" height="13.8" fill="url(#ckM)"/>
<rect x="444.8" y="207.5" width="15.4" height="28.9" fill="url(#ckG)"/>
<rect x="444.8" y="242" width="15.4" height="13.8" fill="url(#ckG)"/>
<rect x="467.5" y="212" width="15.5" height="24.4" fill="url(#ckR)"/>
<rect x="467.5" y="242" width="15.5" height="13.8" fill="url(#ckR)"/>
<rect x="490" y="251.3" width="15" height="4.5" fill="url(#ckB)"/>
<line x1="413.3" y1="255.8" x2="512.5" y2="255.8" stroke="#1e1e1e" stroke-width="1.4"/>
<line x1="430" y1="255.8" x2="430" y2="258.3" stroke="#1e1e1e" stroke-width="1.4"/>
<line x1="452.6" y1="255.8" x2="452.6" y2="258.3" stroke="#1e1e1e" stroke-width="1.4"/>
<line x1="475.2" y1="255.8" x2="475.2" y2="258.3" stroke="#1e1e1e" stroke-width="1.4"/>
<line x1="497.6" y1="255.8" x2="497.6" y2="258.3" stroke="#1e1e1e" stroke-width="1.4"/>
<line x1="430" y1="211.5" x2="430" y2="215" stroke="#e0207e" stroke-width="1"/>
<line x1="427.6" y1="211.5" x2="432.4" y2="211.5" stroke="#e0207e" stroke-width="1"/>
<circle cx="427" cy="214.5" r="1.1" fill="#e0207e"/>
<circle cx="430.5" cy="212" r="1.1" fill="#e0207e"/>
<circle cx="434" cy="214.5" r="1.1" fill="#e0207e"/>
<circle cx="425.5" cy="216.5" r="1.1" fill="#e0207e"/>
<circle cx="432.5" cy="216" r="1.1" fill="#e0207e"/>
<line x1="452.6" y1="202.3" x2="452.6" y2="207.5" stroke="#3aa53a" stroke-width="1"/>
<line x1="450" y1="202.3" x2="455.2" y2="202.3" stroke="#3aa53a" stroke-width="1"/>
<circle cx="449.5" cy="203.5" r="1.1" fill="#3aa53a"/>
<circle cx="455.5" cy="203.5" r="1.1" fill="#3aa53a"/>
<circle cx="452.6" cy="205.5" r="1.1" fill="#3aa53a"/>
<circle cx="450" cy="210" r="1.1" fill="#3aa53a"/>
<circle cx="455" cy="210.5" r="1.1" fill="#3aa53a"/>
<line x1="475.2" y1="205" x2="475.2" y2="212" stroke="#e03040" stroke-width="1"/>
<line x1="472.6" y1="205" x2="477.8" y2="205" stroke="#e03040" stroke-width="1"/>
<circle cx="475" cy="206.5" r="1.1" fill="#e03040"/>
<circle cx="472.5" cy="210" r="1.1" fill="#e03040"/>
<circle cx="478" cy="209.5" r="1.1" fill="#e03040"/>
<circle cx="473.5" cy="215.5" r="1.1" fill="#e03040"/>
<circle cx="477" cy="218" r="1.1" fill="#e03040"/>
<circle cx="493" cy="251.3" r="1" fill="#6a4020"/>
<circle cx="497.6" cy="251" r="1" fill="#6a4020"/>
<circle cx="502" cy="251.3" r="1" fill="#6a4020"/>
<text x="430" y="208.45" font-size="6.8" fill="#333" stroke="#333" stroke-width="0.12" text-anchor="middle">24</text>
<text x="452" y="198.45" font-size="6.8" fill="#333" stroke="#333" stroke-width="0.12" text-anchor="middle">26</text>
<text x="475" y="201.25" font-size="6.8" fill="#333" stroke="#333" stroke-width="0.12" text-anchor="middle">28</text>
<text x="497" y="246.95" font-size="6.8" fill="#333" stroke="#333" stroke-width="0.12" text-anchor="middle">0.18</text>
<line x1="429.5" y1="190.5" x2="498" y2="190.5" stroke="#333" stroke-width="1.25"/>
<line x1="429.5" y1="189" x2="429.5" y2="192" stroke="#333" stroke-width="1"/>
<line x1="498" y1="189" x2="498" y2="192" stroke="#333" stroke-width="1"/>
<text x="464.2" y="191" font-size="7.2" fill="#333" stroke="#333" stroke-width="0.12" text-anchor="middle" textLength="11.2" lengthAdjust="spacingAndGlyphs">****</text>
<text x="265.4" y="390.8" font-size="9.3" fill="#333" stroke="#333" stroke-width="0.12" transform="translate(390.8 265.4) rotate(-90) translate(-265.4 -390.8)" textLength="83.4" lengthAdjust="spacingAndGlyphs"><tspan>LD</tspan><tspan font-size="6.7" dy="2.23">50</tspan><tspan font-size="6.32" dy="-6.32">ASC</tspan><tspan dy="4.09"> concentration (μM)</tspan></text>
<text x="433" y="266.3" font-size="8" fill="#333" stroke="#333" stroke-width="0.12" text-anchor="end" transform="rotate(-45 433 266.3)" textLength="41.66" lengthAdjust="spacingAndGlyphs">Vector Control</text>
<text x="455.6" y="266.3" font-size="8" fill="#333" stroke="#333" stroke-width="0.12" text-anchor="end" transform="rotate(-45 455.6 266.3)" textLength="39.89" lengthAdjust="spacingAndGlyphs" font-style="italic">RCSD1::ABL2</text>
<text x="478.2" y="266.3" font-size="8" fill="#333" stroke="#333" stroke-width="0.12" text-anchor="end" transform="rotate(-45 478.2 266.3)" textLength="34.59" lengthAdjust="spacingAndGlyphs" font-style="italic">PAG1::ABL2</text>
<text x="500.6" y="266.3" font-size="8" fill="#333" stroke="#333" stroke-width="0.12" text-anchor="end" transform="rotate(-45 500.6 266.3)" textLength="46.26" lengthAdjust="spacingAndGlyphs" font-style="italic">ZC3HAV1::ABL2</text>
<text x="7" y="317.82" font-size="12" fill="#111" font-weight="bold">G</text>
<line x1="55" y1="320.7" x2="55" y2="368.5" stroke="#1e1e1e" stroke-width="1.4"/>
<line x1="53.2" y1="367.5" x2="56.8" y2="370.7" stroke="#1e1e1e" stroke-width="1.4"/>
<line x1="55" y1="374.7" x2="55" y2="390.1" stroke="#1e1e1e" stroke-width="1.4"/>
<line x1="53.2" y1="372.9" x2="56.8" y2="376.1" stroke="#1e1e1e" stroke-width="1.4"/>
<line x1="52.2" y1="323.2" x2="55" y2="323.2" stroke="#1e1e1e" stroke-width="1.4"/>
<text x="49.2" y="325.47" font-size="6.3" fill="#2e2e2e" stroke="#2e2e2e" stroke-width="0.12" text-anchor="end">4000</text>
<line x1="52.2" y1="336.4" x2="55" y2="336.4" stroke="#1e1e1e" stroke-width="1.4"/>
<text x="49.2" y="338.67" font-size="6.3" fill="#2e2e2e" stroke="#2e2e2e" stroke-width="0.12" text-anchor="end">3000</text>
<line x1="52.2" y1="349.2" x2="55" y2="349.2" stroke="#1e1e1e" stroke-width="1.4"/>
<text x="49.2" y="351.47" font-size="6.3" fill="#2e2e2e" stroke="#2e2e2e" stroke-width="0.12" text-anchor="end">2000</text>
<line x1="52.2" y1="362.5" x2="55" y2="362.5" stroke="#1e1e1e" stroke-width="1.4"/>
<text x="49.2" y="364.77" font-size="6.3" fill="#2e2e2e" stroke="#2e2e2e" stroke-width="0.12" text-anchor="end">1000</text>
<line x1="52.2" y1="375.1" x2="55" y2="375.1" stroke="#1e1e1e" stroke-width="1.4"/>
<text x="49.2" y="377.37" font-size="6.3" fill="#2e2e2e" stroke="#2e2e2e" stroke-width="0.12" text-anchor="end">500</text>
<line x1="52.2" y1="382.9" x2="55" y2="382.9" stroke="#1e1e1e" stroke-width="1.4"/>
<text x="49.2" y="385.17" font-size="6.3" fill="#2e2e2e" stroke="#2e2e2e" stroke-width="0.12" text-anchor="end">250</text>
<line x1="52.2" y1="390.1" x2="55" y2="390.1" stroke="#1e1e1e" stroke-width="1.4"/>
<text x="49.2" y="392.37" font-size="6.3" fill="#2e2e2e" stroke="#2e2e2e" stroke-width="0.12" text-anchor="end">0</text>
<rect x="61.9" y="383.8" width="12.8" height="6.3" fill="#f4a8cc"/>
<rect x="81.4" y="384" width="12.5" height="6.1" fill="#f4a8cc"/>
<rect x="104.4" y="328.3" width="12.9" height="40.5" fill="#98a4cc"/>
<rect x="104.4" y="374.7" width="12.9" height="15.4" fill="#98a4cc"/>
<rect x="124" y="344.5" width="12.7" height="24.3" fill="#98a4cc"/>
<rect x="124" y="374.7" width="12.7" height="15.4" fill="#98a4cc"/>
<rect x="147.3" y="336" width="12.4" height="32.8" fill="#fdd4a6"/>
<rect x="147.3" y="374.7" width="12.4" height="15.4" fill="#fdd4a6"/>
<rect x="167" y="356.4" width="12.3" height="12.4" fill="#fdd4a6"/>
<rect x="167" y="374.7" width="12.3" height="15.4" fill="#fdd4a6"/>
<rect x="189.7" y="380.2" width="13.3" height="9.9" fill="#c9ad90"/>
<rect x="209.2" y="389" width="12.6" height="1.1" fill="#c9ad90"/>
<line x1="53.6" y1="390.1" x2="229" y2="390.1" stroke="#1e1e1e" stroke-width="1.4"/>
<line x1="68.3" y1="390.1" x2="68.3" y2="392.6" stroke="#1e1e1e" stroke-width="1.4"/>
<line x1="87.6" y1="390.1" x2="87.6" y2="392.6" stroke="#1e1e1e" stroke-width="1.4"/>
<line x1="110.85" y1="390.1" x2="110.85" y2="392.6" stroke="#1e1e1e" stroke-width="1.4"/>
<line x1="130.35" y1="390.1" x2="130.35" y2="392.6" stroke="#1e1e1e" stroke-width="1.4"/>
<line x1="153.5" y1="390.1" x2="153.5" y2="392.6" stroke="#1e1e1e" stroke-width="1.4"/>
<line x1="173.1" y1="390.1" x2="173.1" y2="392.6" stroke="#1e1e1e" stroke-width="1.4"/>
<line x1="196.3" y1="390.1" x2="196.3" y2="392.6" stroke="#1e1e1e" stroke-width="1.4"/>
<line x1="215.5" y1="390.1" x2="215.5" y2="392.6" stroke="#1e1e1e" stroke-width="1.4"/>
<circle cx="62.5" cy="384.5" r="1" fill="#d3106c"/>
<circle cx="65.5" cy="382.8" r="1" fill="#d3106c"/>
<circle cx="68" cy="383.5" r="1" fill="#d3106c"/>
<circle cx="70.5" cy="383" r="1" fill="#d3106c"/>
<circle cx="73.5" cy="382" r="1" fill="#d3106c"/>
<circle cx="73.5" cy="385.5" r="1" fill="#d3106c"/>
<circle cx="66" cy="384.8" r="1" fill="#d3106c"/>
<circle cx="82.5" cy="384.8" r="1" fill="#d3106c"/>
<circle cx="85" cy="383" r="1" fill="#d3106c"/>
<circle cx="87.5" cy="383.8" r="1" fill="#d3106c"/>
<circle cx="90" cy="383.2" r="1" fill="#d3106c"/>
<circle cx="92.5" cy="384.5" r="1" fill="#d3106c"/>
<line x1="110.85" y1="324.8" x2="110.85" y2="328.3" stroke="#1b3466" stroke-width="0.9"/>
<line x1="108.65" y1="324.8" x2="113.05" y2="324.8" stroke="#1b3466" stroke-width="0.9"/>
<circle cx="107.5" cy="328" r="1.1" fill="#1b3466"/>
<circle cx="110.85" cy="325.2" r="1.1" fill="#1b3466"/>
<circle cx="114.2" cy="328" r="1.1" fill="#1b3466"/>
<line x1="130.35" y1="342" x2="130.35" y2="344.5" stroke="#1b3466" stroke-width="0.9"/>
<line x1="128.15" y1="342" x2="132.55" y2="342" stroke="#1b3466" stroke-width="0.9"/>
<circle cx="126.5" cy="344.6" r="1.1" fill="#1b3466"/>
<circle cx="130.35" cy="343" r="1.1" fill="#1b3466"/>
<circle cx="134" cy="344" r="1.1" fill="#1b3466"/>
<line x1="153.5" y1="333.2" x2="153.5" y2="339" stroke="#e8901a" stroke-width="0.9"/>
<line x1="151.3" y1="333.2" x2="155.7" y2="333.2" stroke="#e8901a" stroke-width="0.9"/>
<line x1="151.3" y1="339" x2="155.7" y2="339" stroke="#e8901a" stroke-width="0.9"/>
<circle cx="149.8" cy="333.6" r="0.9" fill="#e8901a"/>
<circle cx="156.8" cy="333.6" r="0.9" fill="#e8901a"/>
<circle cx="153.5" cy="338.5" r="0.9" fill="#e8901a"/>
<circle cx="170" cy="357" r="0.9" fill="#e8901a"/>
<circle cx="175" cy="356.2" r="0.9" fill="#e8901a"/>
<circle cx="172.8" cy="359.5" r="0.9" fill="#e8901a"/>
<circle cx="177" cy="359" r="0.9" fill="#e8901a"/>
<line x1="196.3" y1="375.8" x2="196.3" y2="386" stroke="#6a4428" stroke-width="0.9"/>
<line x1="194.1" y1="375.8" x2="198.5" y2="375.8" stroke="#6a4428" stroke-width="0.9"/>
<line x1="194.1" y1="386" x2="198.5" y2="386" stroke="#6a4428" stroke-width="0.9"/>
<circle cx="196.3" cy="377.5" r="1" fill="#6a4428"/>
<circle cx="196.3" cy="382" r="1" fill="#6a4428"/>
<circle cx="196.3" cy="385.5" r="1" fill="#6a4428"/>
<circle cx="211.5" cy="389" r="0.9" fill="#6a4428"/>
<circle cx="215.5" cy="388.5" r="0.9" fill="#6a4428"/>
<circle cx="219.5" cy="389" r="0.9" fill="#6a4428"/>
<text x="121.4" y="340.82" font-size="7" fill="#333" stroke="#333" stroke-width="0.12" textLength="18" lengthAdjust="spacingAndGlyphs">**33%</text>
<text x="164.1" y="352.42" font-size="7" fill="#333" stroke="#333" stroke-width="0.12" textLength="18.3" lengthAdjust="spacingAndGlyphs">**54%</text>
<text x="208.6" y="386.42" font-size="7" fill="#333" stroke="#333" stroke-width="0.12" textLength="15.1" lengthAdjust="spacingAndGlyphs">*97%</text>
<text x="68.3" y="401.98" font-size="6.6" fill="#2e2e2e" stroke="#2e2e2e" stroke-width="0.12" text-anchor="middle" textLength="8" lengthAdjust="spacingAndGlyphs">UT</text>
<text x="87.6" y="401.98" font-size="6.6" fill="#2e2e2e" stroke="#2e2e2e" stroke-width="0.12" text-anchor="middle" textLength="12.4" lengthAdjust="spacingAndGlyphs">ASC</text>
<text x="110.85" y="401.98" font-size="6.6" fill="#2e2e2e" stroke="#2e2e2e" stroke-width="0.12" text-anchor="middle" textLength="8" lengthAdjust="spacingAndGlyphs">UT</text>
<text x="130.35" y="401.98" font-size="6.6" fill="#2e2e2e" stroke="#2e2e2e" stroke-width="0.12" text-anchor="middle" textLength="12.4" lengthAdjust="spacingAndGlyphs">ASC</text>
<text x="153.5" y="401.98" font-size="6.6" fill="#2e2e2e" stroke="#2e2e2e" stroke-width="0.12" text-anchor="middle" textLength="8" lengthAdjust="spacingAndGlyphs">UT</text>
<text x="173.1" y="401.98" font-size="6.6" fill="#2e2e2e" stroke="#2e2e2e" stroke-width="0.12" text-anchor="middle" textLength="12.4" lengthAdjust="spacingAndGlyphs">ASC</text>
<text x="196.3" y="401.98" font-size="6.6" fill="#2e2e2e" stroke="#2e2e2e" stroke-width="0.12" text-anchor="middle" textLength="8" lengthAdjust="spacingAndGlyphs">UT</text>
<text x="215.5" y="401.98" font-size="6.6" fill="#2e2e2e" stroke="#2e2e2e" stroke-width="0.12" text-anchor="middle" textLength="12.4" lengthAdjust="spacingAndGlyphs">ASC</text>
<text x="376" y="29.2" font-size="9.4" fill="#333" stroke="#333" stroke-width="0.12" transform="translate(29.2 376) rotate(-90) translate(-376 -29.2)" textLength="42.1" lengthAdjust="spacingAndGlyphs"><tspan>MFI of pSTAT5</tspan></text>
<rect x="24.25" y="408.75" width="6.75" height="6.25" fill="#d81b7a"/>
<text x="33.8" y="414.18" font-size="6.6" fill="#333" stroke="#333" stroke-width="0.12" textLength="41.2" lengthAdjust="spacingAndGlyphs">Vector control</text>
<rect x="82.5" y="408.75" width="6.5" height="6.25" fill="#1d4a8a"/>
<text x="91.5" y="414.18" font-size="6.6" fill="#333" stroke="#333" stroke-width="0.12" font-style="italic" textLength="43.1" lengthAdjust="spacingAndGlyphs">NUP214::ABL1</text>
<rect x="142" y="408.75" width="6.3" height="6.25" fill="#f09a1e"/>
<text x="151.3" y="414.18" font-size="6.6" fill="#333" stroke="#333" stroke-width="0.12" font-style="italic" textLength="45" lengthAdjust="spacingAndGlyphs">RANBP2::ABL1</text>
<rect x="202" y="408.75" width="6.3" height="6.25" fill="#6e3f16"/>
<text x="211.3" y="414.18" font-size="6.6" fill="#333" stroke="#333" stroke-width="0.12" font-style="italic" textLength="46.7" lengthAdjust="spacingAndGlyphs">ZC3HAV1::ABL2</text>
<line x1="308.4" y1="320.8" x2="308.4" y2="359.8" stroke="#1e1e1e" stroke-width="1.4"/>
<line x1="308.4" y1="365.4" x2="308.4" y2="390.1" stroke="#1e1e1e" stroke-width="1.4"/>
<line x1="305.6" y1="322" x2="308.4" y2="322" stroke="#1e1e1e" stroke-width="1.4"/>
<text x="302.6" y="324.27" font-size="6.3" fill="#2e2e2e" stroke="#2e2e2e" stroke-width="0.12" text-anchor="end">3000</text>
<line x1="305.6" y1="331.75" x2="308.4" y2="331.75" stroke="#1e1e1e" stroke-width="1.4"/>
<text x="302.6" y="334.02" font-size="6.3" fill="#2e2e2e" stroke="#2e2e2e" stroke-width="0.12" text-anchor="end">2500</text>
<line x1="305.6" y1="341.25" x2="308.4" y2="341.25" stroke="#1e1e1e" stroke-width="1.4"/>
<text x="302.6" y="343.52" font-size="6.3" fill="#2e2e2e" stroke="#2e2e2e" stroke-width="0.12" text-anchor="end">2000</text>
<line x1="305.6" y1="350.5" x2="308.4" y2="350.5" stroke="#1e1e1e" stroke-width="1.4"/>
<text x="302.6" y="352.77" font-size="6.3" fill="#2e2e2e" stroke="#2e2e2e" stroke-width="0.12" text-anchor="end">1500</text>
<line x1="305.6" y1="359.5" x2="308.4" y2="359.5" stroke="#1e1e1e" stroke-width="1.4"/>
<text x="302.6" y="361.77" font-size="6.3" fill="#2e2e2e" stroke="#2e2e2e" stroke-width="0.12" text-anchor="end">1000</text>
<line x1="305.6" y1="365.6" x2="308.4" y2="365.6" stroke="#1e1e1e" stroke-width="1.4"/>
<text x="302.6" y="367.87" font-size="6.3" fill="#2e2e2e" stroke="#2e2e2e" stroke-width="0.12" text-anchor="end">600</text>
<line x1="305.6" y1="373.8" x2="308.4" y2="373.8" stroke="#1e1e1e" stroke-width="1.4"/>
<text x="302.6" y="376.07" font-size="6.3" fill="#2e2e2e" stroke="#2e2e2e" stroke-width="0.12" text-anchor="end">400</text>
<line x1="305.6" y1="382" x2="308.4" y2="382" stroke="#1e1e1e" stroke-width="1.4"/>
<text x="302.6" y="384.27" font-size="6.3" fill="#2e2e2e" stroke="#2e2e2e" stroke-width="0.12" text-anchor="end">200</text>
<line x1="305.6" y1="390.1" x2="308.4" y2="390.1" stroke="#1e1e1e" stroke-width="1.4"/>
<text x="302.6" y="392.37" font-size="6.3" fill="#2e2e2e" stroke="#2e2e2e" stroke-width="0.12" text-anchor="end">0</text>
<rect x="315.2" y="376.2" width="12.5" height="13.9" fill="#f4a8cc"/>
<rect x="334.4" y="376.9" width="12.9" height="13.2" fill="#f4a8cc"/>
<rect x="358" y="328.1" width="12.4" height="31.5" fill="#98a4cc"/>
<rect x="358" y="366" width="12.4" height="24.1" fill="#98a4cc"/>
<rect x="377.3" y="340" width="12.3" height="19.6" fill="#98a4cc"/>
<rect x="377.3" y="366" width="12.3" height="24.1" fill="#98a4cc"/>
<rect x="400" y="328.75" width="13" height="30.85" fill="#fdd4a6"/>
<rect x="400" y="366" width="13" height="24.1" fill="#fdd4a6"/>
<rect x="420" y="348.75" width="12.5" height="10.85" fill="#fdd4a6"/>
<rect x="420" y="366" width="12.5" height="24.1" fill="#fdd4a6"/>
<rect x="443" y="376.25" width="13.25" height="13.85" fill="#c9ad90"/>
<rect x="463" y="387" width="12.5" height="3.1" fill="#c9ad90"/>
<line x1="306.8" y1="390.1" x2="481.3" y2="390.1" stroke="#1e1e1e" stroke-width="1.4"/>
<line x1="321.3" y1="390.1" x2="321.3" y2="392.6" stroke="#1e1e1e" stroke-width="1.4"/>
<line x1="340.9" y1="390.1" x2="340.9" y2="392.6" stroke="#1e1e1e" stroke-width="1.4"/>
<line x1="364.2" y1="390.1" x2="364.2" y2="392.6" stroke="#1e1e1e" stroke-width="1.4"/>
<line x1="383.5" y1="390.1" x2="383.5" y2="392.6" stroke="#1e1e1e" stroke-width="1.4"/>
<line x1="406.5" y1="390.1" x2="406.5" y2="392.6" stroke="#1e1e1e" stroke-width="1.4"/>
<line x1="426.3" y1="390.1" x2="426.3" y2="392.6" stroke="#1e1e1e" stroke-width="1.4"/>
<line x1="449.6" y1="390.1" x2="449.6" y2="392.6" stroke="#1e1e1e" stroke-width="1.4"/>
<line x1="469.3" y1="390.1" x2="469.3" y2="392.6" stroke="#1e1e1e" stroke-width="1.4"/>
<line x1="321.3" y1="367" x2="321.3" y2="383.3" stroke="#d3106c" stroke-width="0.9"/>
<line x1="319.1" y1="367" x2="323.5" y2="367" stroke="#d3106c" stroke-width="0.9"/>
<line x1="319.1" y1="383.3" x2="323.5" y2="383.3" stroke="#d3106c" stroke-width="0.9"/>
<circle cx="321" cy="367" r="1.1" fill="#d3106c"/>
<circle cx="318" cy="371.2" r="1.1" fill="#d3106c"/>
<circle cx="324.2" cy="373.7" r="1.1" fill="#d3106c"/>
<circle cx="318" cy="377" r="1.1" fill="#d3106c"/>
<circle cx="319" cy="384.2" r="1.1" fill="#d3106c"/>
<circle cx="323.8" cy="382.3" r="1.1" fill="#d3106c"/>
<line x1="340.9" y1="371.7" x2="340.9" y2="381.3" stroke="#d3106c" stroke-width="0.9"/>
<line x1="338.7" y1="371.7" x2="343.1" y2="371.7" stroke="#d3106c" stroke-width="0.9"/>
<line x1="338.7" y1="381.3" x2="343.1" y2="381.3" stroke="#d3106c" stroke-width="0.9"/>
<circle cx="335.4" cy="369.8" r="1.1" fill="#d3106c"/>
<circle cx="340.8" cy="373.7" r="1.1" fill="#d3106c"/>
<circle cx="346" cy="372.3" r="1.1" fill="#d3106c"/>
<circle cx="335.8" cy="382" r="1.1" fill="#d3106c"/>
<circle cx="340.8" cy="380.4" r="1.1" fill="#d3106c"/>
<circle cx="345.4" cy="381.3" r="1.1" fill="#d3106c"/>
<line x1="364.2" y1="325" x2="364.2" y2="328.1" stroke="#1b3466" stroke-width="0.9"/>
<line x1="362" y1="325" x2="366.4" y2="325" stroke="#1b3466" stroke-width="0.9"/>
<circle cx="361.3" cy="326.2" r="1.1" fill="#1b3466"/>
<circle cx="366.5" cy="328" r="1.1" fill="#1b3466"/>
<circle cx="363.8" cy="331.9" r="1.1" fill="#1b3466"/>
<line x1="383.5" y1="335.8" x2="383.5" y2="340" stroke="#1b3466" stroke-width="0.9"/>
<line x1="381.3" y1="335.8" x2="385.7" y2="335.8" stroke="#1b3466" stroke-width="0.9"/>
<circle cx="380.6" cy="342" r="1.1" fill="#1b3466"/>
<circle cx="383" cy="338.5" r="1.1" fill="#1b3466"/>
<circle cx="385.8" cy="342" r="1.1" fill="#1b3466"/>
<line x1="406.5" y1="325" x2="406.5" y2="331" stroke="#e8901a" stroke-width="0.9"/>
<line x1="404.3" y1="325" x2="408.7" y2="325" stroke="#e8901a" stroke-width="0.9"/>
<line x1="404.3" y1="331" x2="408.7" y2="331" stroke="#e8901a" stroke-width="0.9"/>
<circle cx="403.5" cy="329.5" r="0.9" fill="#e8901a"/>
<circle cx="409" cy="329.5" r="0.9" fill="#e8901a"/>
<circle cx="406.5" cy="327" r="0.9" fill="#e8901a"/>
<line x1="426.3" y1="343.25" x2="426.3" y2="352" stroke="#e8901a" stroke-width="0.9"/>
<line x1="424.1" y1="343.25" x2="428.5" y2="343.25" stroke="#e8901a" stroke-width="0.9"/>
<line x1="424.1" y1="352" x2="428.5" y2="352" stroke="#e8901a" stroke-width="0.9"/>
<circle cx="423" cy="350" r="0.9" fill="#e8901a"/>
<circle cx="428" cy="349" r="0.9" fill="#e8901a"/>
<circle cx="426.3" cy="346.5" r="0.9" fill="#e8901a"/>
<line x1="449.6" y1="369.5" x2="449.6" y2="386" stroke="#6a4428" stroke-width="0.9"/>
<line x1="447.4" y1="369.5" x2="451.8" y2="369.5" stroke="#6a4428" stroke-width="0.9"/>
<line x1="447.4" y1="386" x2="451.8" y2="386" stroke="#6a4428" stroke-width="0.9"/>
<circle cx="449.6" cy="375" r="1" fill="#6a4428"/>
<circle cx="449.6" cy="381" r="1" fill="#6a4428"/>
<circle cx="449.6" cy="385" r="1" fill="#6a4428"/>
<line x1="469.3" y1="383.25" x2="469.3" y2="387" stroke="#6a4428" stroke-width="0.9"/>
<line x1="467.1" y1="383.25" x2="471.5" y2="383.25" stroke="#6a4428" stroke-width="0.9"/>
<circle cx="469.3" cy="386" r="1" fill="#6a4428"/>
<circle cx="469.3" cy="388.5" r="1" fill="#6a4428"/>
<text x="376.3" y="332.82" font-size="7" fill="#333" stroke="#333" stroke-width="0.12" textLength="15" lengthAdjust="spacingAndGlyphs">*24%</text>
<text x="417.5" y="340.82" font-size="7" fill="#333" stroke="#333" stroke-width="0.12" textLength="18" lengthAdjust="spacingAndGlyphs">**40%</text>
<text x="462.5" y="380.82" font-size="7" fill="#333" stroke="#333" stroke-width="0.12" textLength="13" lengthAdjust="spacingAndGlyphs">75%</text>
<text x="321.3" y="401.38" font-size="6.6" fill="#2e2e2e" stroke="#2e2e2e" stroke-width="0.12" text-anchor="middle" textLength="8" lengthAdjust="spacingAndGlyphs">UT</text>
<text x="340.9" y="401.38" font-size="6.6" fill="#2e2e2e" stroke="#2e2e2e" stroke-width="0.12" text-anchor="middle" textLength="12.4" lengthAdjust="spacingAndGlyphs">ASC</text>
<text x="364.2" y="401.38" font-size="6.6" fill="#2e2e2e" stroke="#2e2e2e" stroke-width="0.12" text-anchor="middle" textLength="8" lengthAdjust="spacingAndGlyphs">UT</text>
<text x="383.5" y="401.38" font-size="6.6" fill="#2e2e2e" stroke="#2e2e2e" stroke-width="0.12" text-anchor="middle" textLength="12.4" lengthAdjust="spacingAndGlyphs">ASC</text>
<text x="406.5" y="401.38" font-size="6.6" fill="#2e2e2e" stroke="#2e2e2e" stroke-width="0.12" text-anchor="middle" textLength="8" lengthAdjust="spacingAndGlyphs">UT</text>
<text x="426.3" y="401.38" font-size="6.6" fill="#2e2e2e" stroke="#2e2e2e" stroke-width="0.12" text-anchor="middle" textLength="12.4" lengthAdjust="spacingAndGlyphs">ASC</text>
<text x="449.6" y="401.38" font-size="6.6" fill="#2e2e2e" stroke="#2e2e2e" stroke-width="0.12" text-anchor="middle" textLength="8" lengthAdjust="spacingAndGlyphs">UT</text>
<text x="469.3" y="401.38" font-size="6.6" fill="#2e2e2e" stroke="#2e2e2e" stroke-width="0.12" text-anchor="middle" textLength="12.4" lengthAdjust="spacingAndGlyphs">ASC</text>
<text x="375.5" y="282.6" font-size="9.4" fill="#333" stroke="#333" stroke-width="0.12" transform="translate(282.6 375.5) rotate(-90) translate(-375.5 -282.6)" textLength="41" lengthAdjust="spacingAndGlyphs"><tspan>MFI of pCRKL</tspan></text>
<rect x="277" y="408.75" width="6.8" height="6.25" fill="#d81b7a"/>
<text x="287" y="414.18" font-size="6.6" fill="#333" stroke="#333" stroke-width="0.12" textLength="41" lengthAdjust="spacingAndGlyphs">Vector control</text>
<rect x="335" y="408.75" width="6.8" height="6.25" fill="#1d4a8a"/>
<text x="345" y="414.18" font-size="6.6" fill="#333" stroke="#333" stroke-width="0.12" font-style="italic" textLength="43" lengthAdjust="spacingAndGlyphs">NUP214::ABL1</text>
<rect x="394.5" y="408.75" width="6.8" height="6.25" fill="#f09a1e"/>
<text x="404.5" y="414.18" font-size="6.6" fill="#333" stroke="#333" stroke-width="0.12" font-style="italic" textLength="44.3" lengthAdjust="spacingAndGlyphs">RANBP2::ABL1</text>
<rect x="455.5" y="408.75" width="6.5" height="6.25" fill="#6e3f16"/>
<text x="465" y="414.18" font-size="6.6" fill="#333" stroke="#333" stroke-width="0.12" font-style="italic" textLength="48" lengthAdjust="spacingAndGlyphs">ZC3HAV1::ABL2</text>
<text x="7" y="431.62" font-size="12" fill="#111" font-weight="bold">H</text>
<line x1="56.4" y1="428.8" x2="56.4" y2="453.3" stroke="#1e1e1e" stroke-width="1.4"/>
<line x1="53.6" y1="428.8" x2="56.4" y2="428.8" stroke="#1e1e1e" stroke-width="1.4"/>
<line x1="53.6" y1="453.3" x2="56.4" y2="453.3" stroke="#1e1e1e" stroke-width="1.4"/>
<line x1="56.4" y1="458.5" x2="56.4" y2="469.9" stroke="#1e1e1e" stroke-width="1.4"/>
<line x1="53.6" y1="458.5" x2="56.4" y2="458.5" stroke="#1e1e1e" stroke-width="1.4"/>
<line x1="53.6" y1="469.9" x2="56.4" y2="469.9" stroke="#1e1e1e" stroke-width="1.4"/>
<line x1="56.4" y1="475.2" x2="56.4" y2="497" stroke="#1e1e1e" stroke-width="1.4"/>
<line x1="53.6" y1="475.2" x2="56.4" y2="475.2" stroke="#1e1e1e" stroke-width="1.4"/>
<line x1="53.6" y1="497" x2="56.4" y2="497" stroke="#1e1e1e" stroke-width="1.4"/>
<line x1="53.6" y1="431.3" x2="56.4" y2="431.3" stroke="#1e1e1e" stroke-width="1.4"/>
<text x="50.6" y="433.57" font-size="6.3" fill="#2e2e2e" stroke="#2e2e2e" stroke-width="0.12" text-anchor="end">15000</text>
<line x1="53.6" y1="440.5" x2="56.4" y2="440.5" stroke="#1e1e1e" stroke-width="1.4"/>
<text x="50.6" y="442.77" font-size="6.3" fill="#2e2e2e" stroke="#2e2e2e" stroke-width="0.12" text-anchor="end">10000</text>
<line x1="53.6" y1="449" x2="56.4" y2="449" stroke="#1e1e1e" stroke-width="1.4"/>
<text x="50.6" y="451.27" font-size="6.3" fill="#2e2e2e" stroke="#2e2e2e" stroke-width="0.12" text-anchor="end">5000</text>
<line x1="53.6" y1="459" x2="56.4" y2="459" stroke="#1e1e1e" stroke-width="1.4"/>
<text x="50.6" y="461.27" font-size="6.3" fill="#2e2e2e" stroke="#2e2e2e" stroke-width="0.12" text-anchor="end">2500</text>
<line x1="53.6" y1="465" x2="56.4" y2="465" stroke="#1e1e1e" stroke-width="1.4"/>
<line x1="53.6" y1="469.6" x2="56.4" y2="469.6" stroke="#1e1e1e" stroke-width="1.4"/>
<text x="50.6" y="471.87" font-size="6.3" fill="#2e2e2e" stroke="#2e2e2e" stroke-width="0.12" text-anchor="end">1500</text>
<line x1="53.6" y1="475.5" x2="56.4" y2="475.5" stroke="#1e1e1e" stroke-width="1.4"/>
<text x="50.6" y="477.77" font-size="6.3" fill="#2e2e2e" stroke="#2e2e2e" stroke-width="0.12" text-anchor="end">400</text>
<line x1="53.6" y1="486.3" x2="56.4" y2="486.3" stroke="#1e1e1e" stroke-width="1.4"/>
<text x="50.6" y="488.57" font-size="6.3" fill="#2e2e2e" stroke="#2e2e2e" stroke-width="0.12" text-anchor="end">200</text>
<line x1="53.6" y1="497" x2="56.4" y2="497" stroke="#1e1e1e" stroke-width="1.4"/>
<text x="50.6" y="499.27" font-size="6.3" fill="#2e2e2e" stroke="#2e2e2e" stroke-width="0.12" text-anchor="end">0</text>
<rect x="61.5" y="448" width="9.4" height="5.5" fill="#fce6ab"/>
<rect x="61.5" y="458.5" width="9.4" height="11.5" fill="#fce6ab"/>
<rect x="61.5" y="475.2" width="9.4" height="21.8" fill="#fce6ab"/>
<rect x="76.2" y="448" width="9.5" height="5.5" fill="#fce6ab"/>
<rect x="76.2" y="458.5" width="9.5" height="11.5" fill="#fce6ab"/>
<rect x="76.2" y="475.2" width="9.5" height="21.8" fill="#fce6ab"/>
<rect x="90.5" y="496" width="9.3" height="1" fill="#fce6ab"/>
<rect x="114.2" y="432.3" width="9.9" height="21.2" fill="url(#hatch)"/>
<rect x="114.2" y="458.5" width="9.9" height="11.5" fill="url(#hatch)"/>
<rect x="114.2" y="475.2" width="9.9" height="21.8" fill="url(#hatch)"/>
<rect x="128" y="446.2" width="10.3" height="7.3" fill="url(#hatch)"/>
<rect x="128" y="458.5" width="10.3" height="11.5" fill="url(#hatch)"/>
<rect x="128" y="475.2" width="10.3" height="21.8" fill="url(#hatch)"/>
<rect x="152.3" y="483.3" width="9.5" height="13.7" fill="#a3b3d9"/>
<rect x="166.6" y="488.8" width="9.1" height="8.2" fill="#a3b3d9"/>
<rect x="180.6" y="494.3" width="9.2" height="2.7" fill="#a3b3d9"/>
<rect x="205.3" y="481.8" width="9.5" height="15.2" fill="#d6ba9a"/>
<rect x="219.6" y="491" width="9.1" height="6" fill="#d6ba9a"/>
<line x1="55" y1="497" x2="233.7" y2="497" stroke="#1e1e1e" stroke-width="1.4"/>
<line x1="66.3" y1="497" x2="66.3" y2="499.5" stroke="#1e1e1e" stroke-width="1.4"/>
<line x1="80.9" y1="497" x2="80.9" y2="499.5" stroke="#1e1e1e" stroke-width="1.4"/>
<line x1="95.1" y1="497" x2="95.1" y2="499.5" stroke="#1e1e1e" stroke-width="1.4"/>
<line x1="119.2" y1="497" x2="119.2" y2="499.5" stroke="#1e1e1e" stroke-width="1.4"/>
<line x1="133.3" y1="497" x2="133.3" y2="499.5" stroke="#1e1e1e" stroke-width="1.4"/>
<line x1="157.1" y1="497" x2="157.1" y2="499.5" stroke="#1e1e1e" stroke-width="1.4"/>
<line x1="171.2" y1="497" x2="171.2" y2="499.5" stroke="#1e1e1e" stroke-width="1.4"/>
<line x1="185.2" y1="497" x2="185.2" y2="499.5" stroke="#1e1e1e" stroke-width="1.4"/>
<line x1="210" y1="497" x2="210" y2="499.5" stroke="#1e1e1e" stroke-width="1.4"/>
<line x1="224.2" y1="497" x2="224.2" y2="499.5" stroke="#1e1e1e" stroke-width="1.4"/>
<line x1="62.1" y1="449.6" x2="64.5" y2="449.6" stroke="#f2b51c" stroke-width="0.7"/>
<line x1="63.3" y1="448.4" x2="63.3" y2="450.8" stroke="#f2b51c" stroke-width="0.7"/>
<circle cx="69.5" cy="449.6" r="0.8" fill="#f2b51c"/>
<line x1="66.3" y1="459.5" x2="66.3" y2="469.5" stroke="#f2b51c" stroke-width="0.6"/>
<circle cx="66.3" cy="491.6" r="0.9" fill="#f2b51c"/>
<line x1="78.4" y1="448.6" x2="82.6" y2="448.6" stroke="#f2b51c" stroke-width="0.7"/>
<line x1="79.7" y1="450" x2="82.1" y2="450" stroke="#f2b51c" stroke-width="0.7"/>
<line x1="80.9" y1="448.8" x2="80.9" y2="451.2" stroke="#f2b51c" stroke-width="0.7"/>
<line x1="80.9" y1="459.5" x2="80.9" y2="495" stroke="#f2b51c" stroke-width="0.6"/>
<line x1="79.7" y1="462" x2="82.1" y2="462" stroke="#f2b51c" stroke-width="0.7"/>
<line x1="80.9" y1="460.8" x2="80.9" y2="463.2" stroke="#f2b51c" stroke-width="0.7"/>
<circle cx="80.9" cy="490.4" r="0.9" fill="#f2b51c"/>
<circle cx="95.1" cy="495.4" r="0.9" fill="#f2b51c"/>
<line x1="119.2" y1="432.3" x2="119.2" y2="434.5" stroke="#e0b830" stroke-width="0.8"/>
<circle cx="131" cy="447" r="0.8" fill="#e8c040"/>
<circle cx="134.5" cy="446.5" r="0.8" fill="#e8c040"/>
<rect x="153.9" y="483.5" width="2.2" height="2.2" fill="none" stroke="#25407a" stroke-width="0.6"/>
<circle cx="158.5" cy="485" r="0.8" fill="#25407a"/>
<rect x="158.4" y="485.4" width="2.2" height="2.2" fill="none" stroke="#25407a" stroke-width="0.6"/>
<line x1="153.5" y1="483.6" x2="160.5" y2="483.6" stroke="#25407a" stroke-width="0.6"/>
<rect x="168.4" y="488.7" width="2.2" height="2.2" fill="none" stroke="#25407a" stroke-width="0.6"/>
<circle cx="172.5" cy="490.6" r="0.8" fill="#25407a"/>
<line x1="167.5" y1="489" x2="174" y2="489" stroke="#25407a" stroke-width="0.6"/>
<circle cx="183.5" cy="494.8" r="0.8" fill="#25407a"/>
<circle cx="186" cy="494.2" r="0.8" fill="#25407a"/>
<circle cx="188.5" cy="495" r="0.8" fill="#25407a"/>
<line x1="210" y1="477.4" x2="210" y2="481.8" stroke="#6e4a2c" stroke-width="0.9"/>
<line x1="207.6" y1="477.4" x2="212.4" y2="477.4" stroke="#6e4a2c" stroke-width="0.9"/>
<circle cx="210" cy="479.5" r="0.9" fill="#6e4a2c"/>
<circle cx="210" cy="483.5" r="0.9" fill="#6e4a2c"/>
<circle cx="208" cy="487" r="0.9" fill="#6e4a2c"/>
<line x1="224.2" y1="489.1" x2="224.2" y2="491" stroke="#6e4a2c" stroke-width="0.9"/>
<line x1="222.2" y1="489.1" x2="226.2" y2="489.1" stroke="#6e4a2c" stroke-width="0.9"/>
<circle cx="222" cy="490.8" r="0.9" fill="#6e4a2c"/>
<circle cx="226" cy="490.3" r="0.9" fill="#6e4a2c"/>
<circle cx="224.2" cy="492.5" r="0.9" fill="#6e4a2c"/>
<text x="74.5" y="458.42" font-size="7" fill="#2d3d63" stroke="#2d3d63" stroke-width="0.12" textLength="12.9" lengthAdjust="spacingAndGlyphs">72%</text>
<text x="89.2" y="492.62" font-size="7" fill="#2d3d63" stroke="#2d3d63" stroke-width="0.12" textLength="12.4" lengthAdjust="spacingAndGlyphs">99%</text>
<text x="127.4" y="443.62" font-size="7" fill="#2d3d63" stroke="#2d3d63" stroke-width="0.12" textLength="12.7" lengthAdjust="spacingAndGlyphs">56%</text>
<text x="164.2" y="487.12" font-size="7" fill="#2d3d63" stroke="#2d3d63" stroke-width="0.12" textLength="15.2" lengthAdjust="spacingAndGlyphs">*59%</text>
<text x="178.8" y="492.42" font-size="7" fill="#2d3d63" stroke="#2d3d63" stroke-width="0.12" textLength="15.2" lengthAdjust="spacingAndGlyphs">*88%</text>
<text x="216.3" y="487.12" font-size="7" fill="#2d3d63" stroke="#2d3d63" stroke-width="0.12" textLength="15.5" lengthAdjust="spacingAndGlyphs">*64%</text>
<text x="66.3" y="508.58" font-size="6.6" fill="#2e2e2e" stroke="#2e2e2e" stroke-width="0.12" text-anchor="middle" textLength="8" lengthAdjust="spacingAndGlyphs">UT</text>
<text x="80.9" y="508.58" font-size="6.6" fill="#2e2e2e" stroke="#2e2e2e" stroke-width="0.12" text-anchor="middle" textLength="12.4" lengthAdjust="spacingAndGlyphs">ASC</text>
<text x="95.1" y="508.58" font-size="6.6" fill="#2e2e2e" stroke="#2e2e2e" stroke-width="0.12" text-anchor="middle" textLength="12.4" lengthAdjust="spacingAndGlyphs">DAS</text>
<text x="119.2" y="508.58" font-size="6.6" fill="#2e2e2e" stroke="#2e2e2e" stroke-width="0.12" text-anchor="middle" textLength="8" lengthAdjust="spacingAndGlyphs">UT</text>
<text x="133.3" y="508.58" font-size="6.6" fill="#2e2e2e" stroke="#2e2e2e" stroke-width="0.12" text-anchor="middle" textLength="12.4" lengthAdjust="spacingAndGlyphs">ASC</text>
<text x="157.1" y="508.58" font-size="6.6" fill="#2e2e2e" stroke="#2e2e2e" stroke-width="0.12" text-anchor="middle" textLength="8" lengthAdjust="spacingAndGlyphs">UT</text>
<text x="171.2" y="508.58" font-size="6.6" fill="#2e2e2e" stroke="#2e2e2e" stroke-width="0.12" text-anchor="middle" textLength="12.4" lengthAdjust="spacingAndGlyphs">ASC</text>
<text x="185.2" y="508.58" font-size="6.6" fill="#2e2e2e" stroke="#2e2e2e" stroke-width="0.12" text-anchor="middle" textLength="12.4" lengthAdjust="spacingAndGlyphs">DAS</text>
<text x="210" y="508.58" font-size="6.6" fill="#2e2e2e" stroke="#2e2e2e" stroke-width="0.12" text-anchor="middle" textLength="8" lengthAdjust="spacingAndGlyphs">UT</text>
<text x="224.2" y="508.58" font-size="6.6" fill="#2e2e2e" stroke="#2e2e2e" stroke-width="0.12" text-anchor="middle" textLength="12.4" lengthAdjust="spacingAndGlyphs">ASC</text>
<text x="483.9" y="28" font-size="9.4" fill="#333" stroke="#333" stroke-width="0.12" transform="translate(28 483.9) rotate(-90) translate(-483.9 -28)" textLength="42.3" lengthAdjust="spacingAndGlyphs"><tspan>MFI of pSTAT5</tspan></text>
<line x1="306.9" y1="430.4" x2="306.9" y2="453.7" stroke="#1e1e1e" stroke-width="1.4"/>
<line x1="304.1" y1="430.4" x2="306.9" y2="430.4" stroke="#1e1e1e" stroke-width="1.4"/>
<line x1="304.1" y1="453.7" x2="306.9" y2="453.7" stroke="#1e1e1e" stroke-width="1.4"/>
<line x1="306.9" y1="458.9" x2="306.9" y2="470.2" stroke="#1e1e1e" stroke-width="1.4"/>
<line x1="304.1" y1="458.9" x2="306.9" y2="458.9" stroke="#1e1e1e" stroke-width="1.4"/>
<line x1="304.1" y1="470.2" x2="306.9" y2="470.2" stroke="#1e1e1e" stroke-width="1.4"/>
<line x1="306.9" y1="475" x2="306.9" y2="497" stroke="#1e1e1e" stroke-width="1.4"/>
<line x1="304.1" y1="475" x2="306.9" y2="475" stroke="#1e1e1e" stroke-width="1.4"/>
<line x1="304.1" y1="497" x2="306.9" y2="497" stroke="#1e1e1e" stroke-width="1.4"/>
<line x1="304.1" y1="432.1" x2="306.9" y2="432.1" stroke="#1e1e1e" stroke-width="1.4"/>
<text x="302.9" y="434.37" font-size="6.3" fill="#2e2e2e" stroke="#2e2e2e" stroke-width="0.12" text-anchor="end">20000</text>
<line x1="304.1" y1="437.6" x2="306.9" y2="437.6" stroke="#1e1e1e" stroke-width="1.4"/>
<text x="302.9" y="439.87" font-size="6.3" fill="#2e2e2e" stroke="#2e2e2e" stroke-width="0.12" text-anchor="end">15000</text>
<line x1="304.1" y1="443.4" x2="306.9" y2="443.4" stroke="#1e1e1e" stroke-width="1.4"/>
<text x="302.9" y="445.67" font-size="6.3" fill="#2e2e2e" stroke="#2e2e2e" stroke-width="0.12" text-anchor="end">10000</text>
<line x1="304.1" y1="450.3" x2="306.9" y2="450.3" stroke="#1e1e1e" stroke-width="1.4"/>
<text x="302.9" y="452.57" font-size="6.3" fill="#2e2e2e" stroke="#2e2e2e" stroke-width="0.12" text-anchor="end">5000</text>
<line x1="304.1" y1="459.4" x2="306.9" y2="459.4" stroke="#1e1e1e" stroke-width="1.4"/>
<text x="302.9" y="461.67" font-size="6.3" fill="#2e2e2e" stroke="#2e2e2e" stroke-width="0.12" text-anchor="end">2000</text>
<line x1="304.1" y1="466.4" x2="306.9" y2="466.4" stroke="#1e1e1e" stroke-width="1.4"/>
<text x="302.9" y="468.67" font-size="6.3" fill="#2e2e2e" stroke="#2e2e2e" stroke-width="0.12" text-anchor="end">1000</text>
<line x1="304.1" y1="475.7" x2="306.9" y2="475.7" stroke="#1e1e1e" stroke-width="1.4"/>
<text x="302.9" y="477.97" font-size="6.3" fill="#2e2e2e" stroke="#2e2e2e" stroke-width="0.12" text-anchor="end">500</text>
<line x1="304.1" y1="486.6" x2="306.9" y2="486.6" stroke="#1e1e1e" stroke-width="1.4"/>
<text x="302.9" y="488.87" font-size="6.3" fill="#2e2e2e" stroke="#2e2e2e" stroke-width="0.12" text-anchor="end">250</text>
<line x1="304.1" y1="497" x2="306.9" y2="497" stroke="#1e1e1e" stroke-width="1.4"/>
<text x="302.9" y="499.27" font-size="6.3" fill="#2e2e2e" stroke="#2e2e2e" stroke-width="0.12" text-anchor="end">0</text>
<rect x="311.5" y="447.7" width="10.4" height="6.1" fill="#fce6ab"/>
<rect x="311.5" y="458.9" width="10.4" height="11.4" fill="#fce6ab"/>
<rect x="311.5" y="475.2" width="10.4" height="21.8" fill="#fce6ab"/>
<rect x="327.1" y="448.5" width="9.5" height="5.3" fill="#fce6ab"/>
<rect x="327.1" y="458.9" width="9.5" height="11.4" fill="#fce6ab"/>
<rect x="327.1" y="475.2" width="9.5" height="21.8" fill="#fce6ab"/>
<rect x="340.8" y="496.2" width="9" height="0.8" fill="#fce6ab"/>
<rect x="365" y="432.1" width="9.9" height="21.7" fill="url(#hatch)"/>
<rect x="365" y="458.9" width="9.9" height="11.4" fill="url(#hatch)"/>
<rect x="365" y="475.2" width="9.9" height="21.8" fill="url(#hatch)"/>
<rect x="379.2" y="438.7" width="10.1" height="15.1" fill="url(#hatch)"/>
<rect x="379.2" y="458.9" width="10.1" height="11.4" fill="url(#hatch)"/>
<rect x="379.2" y="475.2" width="10.1" height="21.8" fill="url(#hatch)"/>
<rect x="403.1" y="468.8" width="9.9" height="1.5" fill="#a3b3d9"/>
<rect x="403.1" y="475.2" width="9.9" height="21.8" fill="#a3b3d9"/>
<rect x="417.6" y="468.8" width="9.7" height="1.5" fill="#a3b3d9"/>
<rect x="417.6" y="475.2" width="9.7" height="21.8" fill="#a3b3d9"/>
<rect x="432" y="490.1" width="9.5" height="6.9" fill="#a3b3d9"/>
<rect x="456.3" y="461" width="9.4" height="9.3" fill="#d6ba9a"/>
<rect x="456.3" y="475.5" width="9.4" height="21.5" fill="#d6ba9a"/>
<rect x="470.4" y="461" width="9.5" height="9.3" fill="#d6ba9a"/>
<rect x="470.4" y="475.5" width="9.5" height="21.5" fill="#d6ba9a"/>
<line x1="305.5" y1="497" x2="484.6" y2="497" stroke="#1e1e1e" stroke-width="1.4"/>
<line x1="317.5" y1="497" x2="317.5" y2="499.5" stroke="#1e1e1e" stroke-width="1.4"/>
<line x1="331.8" y1="497" x2="331.8" y2="499.5" stroke="#1e1e1e" stroke-width="1.4"/>
<line x1="346" y1="497" x2="346" y2="499.5" stroke="#1e1e1e" stroke-width="1.4"/>
<line x1="370" y1="497" x2="370" y2="499.5" stroke="#1e1e1e" stroke-width="1.4"/>
<line x1="384.2" y1="497" x2="384.2" y2="499.5" stroke="#1e1e1e" stroke-width="1.4"/>
<line x1="408" y1="497" x2="408" y2="499.5" stroke="#1e1e1e" stroke-width="1.4"/>
<line x1="422.4" y1="497" x2="422.4" y2="499.5" stroke="#1e1e1e" stroke-width="1.4"/>
<line x1="436.7" y1="497" x2="436.7" y2="499.5" stroke="#1e1e1e" stroke-width="1.4"/>
<line x1="461" y1="497" x2="461" y2="499.5" stroke="#1e1e1e" stroke-width="1.4"/>
<line x1="475.1" y1="497" x2="475.1" y2="499.5" stroke="#1e1e1e" stroke-width="1.4"/>
<line x1="313.5" y1="447.7" x2="319.5" y2="447.7" stroke="#f2b51c" stroke-width="0.7"/>
<line x1="313.8" y1="449.8" x2="316.2" y2="449.8" stroke="#f2b51c" stroke-width="0.7"/>
<line x1="315" y1="448.6" x2="315" y2="451" stroke="#f2b51c" stroke-width="0.7"/>
<circle cx="318.5" cy="449.8" r="0.8" fill="#f2b51c"/>
<line x1="316.7" y1="447.7" x2="316.7" y2="453.5" stroke="#f2b51c" stroke-width="0.6"/>
<line x1="315.8" y1="463" x2="318.2" y2="463" stroke="#f2b51c" stroke-width="0.7"/>
<line x1="317" y1="461.8" x2="317" y2="464.2" stroke="#f2b51c" stroke-width="0.7"/>
<circle cx="316.6" cy="468.6" r="0.9" fill="#f2b51c"/>
<line x1="331.9" y1="447.7" x2="331.9" y2="452.9" stroke="#f2b51c" stroke-width="0.7"/>
<line x1="329.5" y1="447.7" x2="334.3" y2="447.7" stroke="#f2b51c" stroke-width="0.7"/>
<line x1="329.5" y1="452.9" x2="334.3" y2="452.9" stroke="#f2b51c" stroke-width="0.7"/>
<line x1="330.7" y1="450.2" x2="333.1" y2="450.2" stroke="#f2b51c" stroke-width="0.7"/>
<line x1="331.9" y1="449" x2="331.9" y2="451.4" stroke="#f2b51c" stroke-width="0.7"/>
<circle cx="331.9" cy="483" r="0.9" fill="#f2b51c"/>
<line x1="331.9" y1="459" x2="331.9" y2="470" stroke="#f2b51c" stroke-width="0.6"/>
<circle cx="345.3" cy="496.4" r="0.9" fill="#f2b51c"/>
<line x1="370" y1="432.1" x2="370" y2="434" stroke="#e0b830" stroke-width="0.8"/>
<line x1="408" y1="461.5" x2="408" y2="468.8" stroke="#25407a" stroke-width="0.8"/>
<line x1="405.6" y1="461.5" x2="410.4" y2="461.5" stroke="#25407a" stroke-width="0.8"/>
<line x1="405.6" y1="468.8" x2="410.4" y2="468.8" stroke="#25407a" stroke-width="0.8"/>
<line x1="408" y1="475.2" x2="408" y2="495.5" stroke="#25407a" stroke-width="0.6"/>
<circle cx="408" cy="466" r="0.8" fill="#25407a"/>
<line x1="403.1" y1="468.8" x2="413" y2="468.8" stroke="#25407a" stroke-width="0.6"/>
<line x1="422.4" y1="461.5" x2="422.4" y2="468.8" stroke="#25407a" stroke-width="0.8"/>
<line x1="420" y1="461.5" x2="424.8" y2="461.5" stroke="#25407a" stroke-width="0.8"/>
<line x1="420" y1="468.8" x2="424.8" y2="468.8" stroke="#25407a" stroke-width="0.8"/>
<line x1="422.4" y1="475.2" x2="422.4" y2="496" stroke="#25407a" stroke-width="0.6"/>
<circle cx="422.4" cy="466" r="0.8" fill="#25407a"/>
<line x1="417.6" y1="468.8" x2="427.3" y2="468.8" stroke="#25407a" stroke-width="0.6"/>
<line x1="436.7" y1="486.1" x2="436.7" y2="490.1" stroke="#25407a" stroke-width="0.8"/>
<line x1="434.5" y1="486.1" x2="438.9" y2="486.1" stroke="#25407a" stroke-width="0.8"/>
<circle cx="434.5" cy="491.5" r="0.8" fill="#25407a"/>
<circle cx="438.5" cy="491" r="0.8" fill="#25407a"/>
<circle cx="436.7" cy="493.5" r="0.8" fill="#25407a"/>
<line x1="459.3" y1="452.5" x2="462.5" y2="452.5" stroke="#6e4a2c" stroke-width="0.8"/>
<line x1="460.9" y1="450.9" x2="460.9" y2="454.1" stroke="#6e4a2c" stroke-width="0.8"/>
<line x1="473.5" y1="452.5" x2="476.7" y2="452.5" stroke="#6e4a2c" stroke-width="0.8"/>
<line x1="475.1" y1="450.9" x2="475.1" y2="454.1" stroke="#6e4a2c" stroke-width="0.8"/>
<line x1="460.9" y1="463" x2="460.9" y2="470.2" stroke="#6e4a2c" stroke-width="0.6"/>
<circle cx="457.8" cy="466" r="0.9" fill="#6e4a2c"/>
<circle cx="464" cy="465" r="0.9" fill="#6e4a2c"/>
<line x1="456.3" y1="478.7" x2="465.7" y2="478.7" stroke="#6e4a2c" stroke-width="0.6"/>
<line x1="460.9" y1="475.2" x2="460.9" y2="480" stroke="#6e4a2c" stroke-width="0.6"/>
<line x1="475.1" y1="463" x2="475.1" y2="470.2" stroke="#6e4a2c" stroke-width="0.6"/>
<circle cx="471.8" cy="466" r="0.9" fill="#6e4a2c"/>
<circle cx="478.2" cy="465.5" r="0.9" fill="#6e4a2c"/>
<line x1="475.1" y1="475.2" x2="475.1" y2="490" stroke="#6e4a2c" stroke-width="0.6"/>
<line x1="471" y1="490" x2="479" y2="490" stroke="#6e4a2c" stroke-width="0.6"/>
<text x="325.4" y="446.12" font-size="7" fill="#2d3d63" stroke="#2d3d63" stroke-width="0.12" textLength="12.9" lengthAdjust="spacingAndGlyphs">17%</text>
<text x="338.3" y="494.22" font-size="7" fill="#2d3d63" stroke="#2d3d63" stroke-width="0.12" textLength="15.6" lengthAdjust="spacingAndGlyphs">100%</text>
<text x="378.4" y="436.32" font-size="7" fill="#2d3d63" stroke="#2d3d63" stroke-width="0.12" textLength="12.6" lengthAdjust="spacingAndGlyphs">30%</text>
<text x="416.9" y="460.02" font-size="7" fill="#2d3d63" stroke="#2d3d63" stroke-width="0.12" textLength="12.1" lengthAdjust="spacingAndGlyphs">13%</text>
<text x="430.8" y="483.52" font-size="7" fill="#2d3d63" stroke="#2d3d63" stroke-width="0.12" textLength="12.4" lengthAdjust="spacingAndGlyphs">83%</text>
<text x="317.5" y="508.38" font-size="6.6" fill="#2e2e2e" stroke="#2e2e2e" stroke-width="0.12" text-anchor="middle" textLength="8" lengthAdjust="spacingAndGlyphs">UT</text>
<text x="331.8" y="508.38" font-size="6.6" fill="#2e2e2e" stroke="#2e2e2e" stroke-width="0.12" text-anchor="middle" textLength="12.4" lengthAdjust="spacingAndGlyphs">ASC</text>
<text x="346" y="508.38" font-size="6.6" fill="#2e2e2e" stroke="#2e2e2e" stroke-width="0.12" text-anchor="middle" textLength="12.4" lengthAdjust="spacingAndGlyphs">DAS</text>
<text x="370" y="508.38" font-size="6.6" fill="#2e2e2e" stroke="#2e2e2e" stroke-width="0.12" text-anchor="middle" textLength="8" lengthAdjust="spacingAndGlyphs">UT</text>
<text x="384.2" y="508.38" font-size="6.6" fill="#2e2e2e" stroke="#2e2e2e" stroke-width="0.12" text-anchor="middle" textLength="12.4" lengthAdjust="spacingAndGlyphs">ASC</text>
<text x="408" y="508.38" font-size="6.6" fill="#2e2e2e" stroke="#2e2e2e" stroke-width="0.12" text-anchor="middle" textLength="8" lengthAdjust="spacingAndGlyphs">UT</text>
<text x="422.4" y="508.38" font-size="6.6" fill="#2e2e2e" stroke="#2e2e2e" stroke-width="0.12" text-anchor="middle" textLength="12.4" lengthAdjust="spacingAndGlyphs">ASC</text>
<text x="436.7" y="508.38" font-size="6.6" fill="#2e2e2e" stroke="#2e2e2e" stroke-width="0.12" text-anchor="middle" textLength="12.4" lengthAdjust="spacingAndGlyphs">DAS</text>
<text x="461" y="508.38" font-size="6.6" fill="#2e2e2e" stroke="#2e2e2e" stroke-width="0.12" text-anchor="middle" textLength="8" lengthAdjust="spacingAndGlyphs">UT</text>
<text x="475.1" y="508.38" font-size="6.6" fill="#2e2e2e" stroke="#2e2e2e" stroke-width="0.12" text-anchor="middle" textLength="12.4" lengthAdjust="spacingAndGlyphs">ASC</text>
<text x="482.3" y="279.5" font-size="9.4" fill="#333" stroke="#333" stroke-width="0.12" transform="translate(279.5 482.3) rotate(-90) translate(-482.3 -279.5)" textLength="40.7" lengthAdjust="spacingAndGlyphs"><tspan>MFI of pCRKL</tspan></text>
<rect x="20" y="514" width="6.3" height="6.2" fill="#f7b500"/>
<text x="29.5" y="519.48" font-size="6.6" fill="#333" stroke="#333" stroke-width="0.12" textLength="44.3" lengthAdjust="spacingAndGlyphs"><tspan font-style="italic">ETV6::ABL1</tspan> Dx</text>
<rect x="80.5" y="514" width="6.5" height="6.2" fill="url(#hatch)"/>
<rect x="80.5" y="514.0" width="6.5" height="6.2" fill="none" stroke="#d7a820" stroke-width="0.4"/>
<text x="90" y="519.48" font-size="6.6" fill="#333" stroke="#333" stroke-width="0.12" textLength="47.5" lengthAdjust="spacingAndGlyphs"><tspan font-style="italic">ETV6::ABL1</tspan> REL</text>
<rect x="145.5" y="514" width="5.5" height="6.2" fill="#1d4a8a"/>
<text x="153.8" y="519.48" font-size="6.6" fill="#333" stroke="#333" stroke-width="0.12" font-style="italic" textLength="43.7" lengthAdjust="spacingAndGlyphs">NUP214::ABL1</text>
<rect x="205" y="514" width="5.8" height="6.2" fill="#6e3f16"/>
<text x="213.8" y="519.48" font-size="6.6" fill="#333" stroke="#333" stroke-width="0.12" font-style="italic" textLength="44.2" lengthAdjust="spacingAndGlyphs">ZC3HAV1::ABL2</text>
<rect x="271.2" y="514" width="6" height="6.2" fill="#f7b500"/>
<text x="280.5" y="519.48" font-size="6.6" fill="#333" stroke="#333" stroke-width="0.12" textLength="44" lengthAdjust="spacingAndGlyphs"><tspan font-style="italic">ETV6::ABL1</tspan> Dx</text>
<rect x="332" y="514" width="6.2" height="6.2" fill="url(#hatch)"/>
<rect x="332" y="514.0" width="6.2" height="6.2" fill="none" stroke="#d7a820" stroke-width="0.4"/>
<text x="341.3" y="519.48" font-size="6.6" fill="#333" stroke="#333" stroke-width="0.12" textLength="46.2" lengthAdjust="spacingAndGlyphs"><tspan font-style="italic">ETV6::ABL1</tspan> REL</text>
<rect x="395" y="514" width="6.3" height="6.2" fill="#1d4a8a"/>
<text x="405" y="519.48" font-size="6.6" fill="#333" stroke="#333" stroke-width="0.12" font-style="italic" textLength="43.8" lengthAdjust="spacingAndGlyphs">NUP214::ABL1</text>
<rect x="455.5" y="514" width="6" height="6.2" fill="#6e3f16"/>
<text x="464.5" y="519.48" font-size="6.6" fill="#333" stroke="#333" stroke-width="0.12" font-style="italic" textLength="48.5" lengthAdjust="spacingAndGlyphs">ZC3HAV1::ABL2</text>
<text x="7.2" y="537.12" font-size="12" fill="#111" font-weight="bold">I</text>
<line x1="50.5" y1="539.8" x2="50.5" y2="602.4" stroke="#1e1e1e" stroke-width="1.4"/>
<line x1="47.7" y1="540.9" x2="50.5" y2="540.9" stroke="#1e1e1e" stroke-width="1.4"/>
<text x="45.2" y="543.17" font-size="6.3" fill="#2e2e2e" stroke="#2e2e2e" stroke-width="0.12" text-anchor="end">500</text>
<line x1="47.7" y1="553.2" x2="50.5" y2="553.2" stroke="#1e1e1e" stroke-width="1.4"/>
<text x="45.2" y="555.47" font-size="6.3" fill="#2e2e2e" stroke="#2e2e2e" stroke-width="0.12" text-anchor="end">400</text>
<line x1="47.7" y1="565.5" x2="50.5" y2="565.5" stroke="#1e1e1e" stroke-width="1.4"/>
<text x="45.2" y="567.77" font-size="6.3" fill="#2e2e2e" stroke="#2e2e2e" stroke-width="0.12" text-anchor="end">300</text>
<line x1="47.7" y1="577.7" x2="50.5" y2="577.7" stroke="#1e1e1e" stroke-width="1.4"/>
<text x="45.2" y="579.97" font-size="6.3" fill="#2e2e2e" stroke="#2e2e2e" stroke-width="0.12" text-anchor="end">200</text>
<line x1="47.7" y1="590" x2="50.5" y2="590" stroke="#1e1e1e" stroke-width="1.4"/>
<text x="45.2" y="592.27" font-size="6.3" fill="#2e2e2e" stroke="#2e2e2e" stroke-width="0.12" text-anchor="end">100</text>
<line x1="47.7" y1="602.2" x2="50.5" y2="602.2" stroke="#1e1e1e" stroke-width="1.4"/>
<text x="45.2" y="604.47" font-size="6.3" fill="#2e2e2e" stroke="#2e2e2e" stroke-width="0.12" text-anchor="end">0</text>
<rect x="55.3" y="565.3" width="9.9" height="36.9" fill="#f4a8cc"/>
<rect x="70.3" y="595" width="9" height="7.2" fill="#a3b2d8"/>
<rect x="85.4" y="597" width="9" height="5.2" fill="#e6e6ea"/>
<rect x="100.3" y="597" width="9.1" height="5.2" fill="#fdd6a3"/>
<rect x="115.2" y="597.2" width="9" height="5" fill="#fde6a3"/>
<rect x="129.9" y="598" width="9" height="4.2" fill="#d9c2a6"/>
<rect x="159.5" y="574.8" width="9.3" height="27.4" fill="#f4a8cc"/>
<rect x="174.5" y="598" width="9" height="4.2" fill="#a3b2d8"/>
<rect x="189.3" y="600" width="9" height="2.2" fill="#e6e6ea"/>
<rect x="204" y="599" width="9" height="3.2" fill="#fdd6a3"/>
<rect x="219" y="600" width="9" height="2.2" fill="#fde6a3"/>
<rect x="233.9" y="600" width="9" height="2.2" fill="#d9c2a6"/>
<line x1="48.8" y1="602.2" x2="247.8" y2="602.2" stroke="#1e1e1e" stroke-width="1.4"/>
<line x1="60.2" y1="602.2" x2="60.2" y2="604.7" stroke="#1e1e1e" stroke-width="1.4"/>
<line x1="74.8" y1="602.2" x2="74.8" y2="604.7" stroke="#1e1e1e" stroke-width="1.4"/>
<line x1="89.6" y1="602.2" x2="89.6" y2="604.7" stroke="#1e1e1e" stroke-width="1.4"/>
<line x1="104.6" y1="602.2" x2="104.6" y2="604.7" stroke="#1e1e1e" stroke-width="1.4"/>
<line x1="119.4" y1="602.2" x2="119.4" y2="604.7" stroke="#1e1e1e" stroke-width="1.4"/>
<line x1="134.4" y1="602.2" x2="134.4" y2="604.7" stroke="#1e1e1e" stroke-width="1.4"/>
<line x1="164" y1="602.2" x2="164" y2="604.7" stroke="#1e1e1e" stroke-width="1.4"/>
<line x1="178.9" y1="602.2" x2="178.9" y2="604.7" stroke="#1e1e1e" stroke-width="1.4"/>
<line x1="193.8" y1="602.2" x2="193.8" y2="604.7" stroke="#1e1e1e" stroke-width="1.4"/>
<line x1="208.7" y1="602.2" x2="208.7" y2="604.7" stroke="#1e1e1e" stroke-width="1.4"/>
<line x1="223.5" y1="602.2" x2="223.5" y2="604.7" stroke="#1e1e1e" stroke-width="1.4"/>
<line x1="238.4" y1="602.2" x2="238.4" y2="604.7" stroke="#1e1e1e" stroke-width="1.4"/>
<line x1="60.2" y1="546.9" x2="60.2" y2="582.2" stroke="#d8157a" stroke-width="0.8"/>
<line x1="58" y1="546.9" x2="62.4" y2="546.9" stroke="#d8157a" stroke-width="0.8"/>
<line x1="58" y1="582.2" x2="62.4" y2="582.2" stroke="#d8157a" stroke-width="0.8"/>
<rect x="59.1" y="545.1" width="2.4" height="2.4" fill="none" stroke="#d8157a" stroke-width="0.6"/>
<circle cx="57.2" cy="551.8" r="1" fill="#d8157a"/>
<circle cx="63.8" cy="551" r="1" fill="#d8157a"/>
<circle cx="60.2" cy="567.5" r="1" fill="#d8157a"/>
<circle cx="60.2" cy="579" r="1" fill="#d8157a"/>
<circle cx="60.2" cy="582.5" r="1" fill="#d8157a"/>
<path d="M60 588.2L61.3 590.54L58.7 590.54Z" fill="#d8157a"/>
<line x1="74.8" y1="589.5" x2="74.8" y2="595" stroke="#23427f" stroke-width="0.7"/>
<line x1="72.8" y1="589.5" x2="76.8" y2="589.5" stroke="#23427f" stroke-width="0.7"/>
<rect x="71.1" y="588.4" width="2.2" height="2.2" fill="none" stroke="#23427f" stroke-width="0.6"/>
<rect x="76.7" y="588.2" width="2.2" height="2.2" fill="none" stroke="#23427f" stroke-width="0.6"/>
<circle cx="74.8" cy="591" r="0.9" fill="#23427f"/>
<circle cx="74.8" cy="594.5" r="0.9" fill="#23427f"/>
<circle cx="73" cy="597" r="0.9" fill="#23427f"/>
<circle cx="76.5" cy="597.5" r="0.9" fill="#23427f"/>
<path d="M74.8 598.7L76.1 601.04L73.5 601.04Z" fill="#23427f"/>
<rect x="86" y="592" width="2" height="2" fill="none" stroke="#a8a8b0" stroke-width="0.6"/>
<rect x="91.5" y="590" width="2" height="2" fill="none" stroke="#a8a8b0" stroke-width="0.6"/>
<rect x="88.6" y="594" width="2" height="2" fill="none" stroke="#a8a8b0" stroke-width="0.6"/>
<rect x="85.5" y="597" width="2" height="2" fill="none" stroke="#a8a8b0" stroke-width="0.6"/>
<rect x="91" y="597.5" width="2" height="2" fill="none" stroke="#a8a8b0" stroke-width="0.6"/>
<circle cx="102.5" cy="592" r="1" fill="#f0951e"/>
<circle cx="107" cy="590.5" r="1" fill="#f0951e"/>
<circle cx="104.6" cy="594" r="1" fill="#f0951e"/>
<circle cx="101.5" cy="597" r="1" fill="#f0951e"/>
<circle cx="107.5" cy="598" r="1" fill="#f0951e"/>
<circle cx="104.6" cy="600" r="1" fill="#f0951e"/>
<circle cx="117" cy="595" r="1" fill="#f2b61c"/>
<circle cx="121.5" cy="593" r="1" fill="#f2b61c"/>
<circle cx="119.4" cy="597" r="1" fill="#f2b61c"/>
<circle cx="116.5" cy="599.5" r="1" fill="#f2b61c"/>
<circle cx="122" cy="599" r="1" fill="#f2b61c"/>
<circle cx="131.5" cy="595" r="1" fill="#6e4a2c"/>
<circle cx="137" cy="594" r="1" fill="#6e4a2c"/>
<circle cx="134.4" cy="597.5" r="1" fill="#6e4a2c"/>
<circle cx="132" cy="600" r="1" fill="#6e4a2c"/>
<circle cx="136.5" cy="599.5" r="1" fill="#6e4a2c"/>
<circle cx="134.4" cy="590.5" r="0.9" fill="#333"/>
<line x1="163.8" y1="558.5" x2="163.8" y2="589.2" stroke="#d8157a" stroke-width="0.8"/>
<line x1="161.6" y1="558.5" x2="166" y2="558.5" stroke="#d8157a" stroke-width="0.8"/>
<line x1="161.6" y1="589.2" x2="166" y2="589.2" stroke="#d8157a" stroke-width="0.8"/>
<rect x="162.4" y="555.9" width="2.2" height="2.2" fill="none" stroke="#d8157a" stroke-width="0.6"/>
<circle cx="163.6" cy="566.5" r="1" fill="#d8157a"/>
<path d="M161.8 584.7L163.1 587.04L160.5 587.04Z" fill="#d8157a"/>
<path d="M166 584.7L167.3 587.04L164.7 587.04Z" fill="#d8157a"/>
<circle cx="176.5" cy="597.5" r="0.9" fill="#23427f"/>
<circle cx="178.9" cy="596" r="0.9" fill="#23427f"/>
<circle cx="181.5" cy="597.8" r="0.9" fill="#23427f"/>
<circle cx="177.8" cy="600" r="0.9" fill="#23427f"/>
<circle cx="180.5" cy="600" r="0.9" fill="#23427f"/>
<path d="M178.9 593.2L180.2 595.54L177.6 595.54Z" fill="#23427f"/>
<rect x="190.5" y="599.2" width="2" height="2" fill="none" stroke="#a8a8b0" stroke-width="0.6"/>
<rect x="195.2" y="598.8" width="2" height="2" fill="none" stroke="#a8a8b0" stroke-width="0.6"/>
<circle cx="206" cy="598" r="1" fill="#f0951e"/>
<circle cx="209" cy="596.5" r="1" fill="#f0951e"/>
<circle cx="211" cy="598.5" r="1" fill="#f0951e"/>
<circle cx="207.5" cy="600.5" r="1" fill="#f0951e"/>
<circle cx="221" cy="599.5" r="1" fill="#f2b61c"/>
<circle cx="224.5" cy="599" r="1" fill="#f2b61c"/>
<circle cx="223" cy="601" r="1" fill="#f2b61c"/>
<circle cx="236" cy="599.5" r="1" fill="#6e4a2c"/>
<circle cx="240" cy="598.5" r="1" fill="#6e4a2c"/>
<circle cx="238.4" cy="600.8" r="1" fill="#6e4a2c"/>
<text x="66.3" y="582.92" font-size="7" fill="#333" stroke="#333" stroke-width="0.12" textLength="18.3" lengthAdjust="spacingAndGlyphs">**80%</text>
<text x="79.8" y="590.22" font-size="7" fill="#333" stroke="#333" stroke-width="0.12" textLength="20.6" lengthAdjust="spacingAndGlyphs">***89%</text>
<text x="95.2" y="584.82" font-size="7" fill="#333" stroke="#333" stroke-width="0.12" textLength="19.8" lengthAdjust="spacingAndGlyphs">***86%</text>
<text x="110.6" y="579.12" font-size="7" fill="#333" stroke="#333" stroke-width="0.12" textLength="19.8" lengthAdjust="spacingAndGlyphs">***90%</text>
<text x="124" y="590.22" font-size="7" fill="#333" stroke="#333" stroke-width="0.12" textLength="20.6" lengthAdjust="spacingAndGlyphs">***89%</text>
<text x="171.5" y="589.62" font-size="7" fill="#333" stroke="#333" stroke-width="0.12" textLength="15.4" lengthAdjust="spacingAndGlyphs">*87%</text>
<text x="186.9" y="595.42" font-size="7" fill="#333" stroke="#333" stroke-width="0.12" textLength="14.6" lengthAdjust="spacingAndGlyphs">*94%</text>
<text x="201.5" y="589.62" font-size="7" fill="#333" stroke="#333" stroke-width="0.12" textLength="14.8" lengthAdjust="spacingAndGlyphs">*91%</text>
<text x="216.3" y="584.52" font-size="7" fill="#333" stroke="#333" stroke-width="0.12" textLength="14.9" lengthAdjust="spacingAndGlyphs">*96%</text>
<text x="230.8" y="595.42" font-size="7" fill="#333" stroke="#333" stroke-width="0.12" textLength="15.4" lengthAdjust="spacingAndGlyphs">*94%</text>
<text x="60.2" y="614.34" font-size="6.5" fill="#2e2e2e" stroke="#2e2e2e" stroke-width="0.12" text-anchor="middle">UT</text>
<text x="74.8" y="614.34" font-size="6.5" fill="#2e2e2e" stroke="#2e2e2e" stroke-width="0.12" text-anchor="middle">ASC</text>
<text x="89.6" y="614.34" font-size="6.5" fill="#2e2e2e" stroke="#2e2e2e" stroke-width="0.12" text-anchor="middle">IMAT</text>
<text x="104.6" y="614.34" font-size="6.5" fill="#2e2e2e" stroke="#2e2e2e" stroke-width="0.12" text-anchor="middle">NIL</text>
<text x="119.4" y="614.34" font-size="6.5" fill="#2e2e2e" stroke="#2e2e2e" stroke-width="0.12" text-anchor="middle">DAS</text>
<text x="134.4" y="614.34" font-size="6.5" fill="#2e2e2e" stroke="#2e2e2e" stroke-width="0.12" text-anchor="middle">PON</text>
<text x="164" y="614.34" font-size="6.5" fill="#2e2e2e" stroke="#2e2e2e" stroke-width="0.12" text-anchor="middle">UT</text>
<text x="178.9" y="614.34" font-size="6.5" fill="#2e2e2e" stroke="#2e2e2e" stroke-width="0.12" text-anchor="middle">ASC</text>
<text x="193.8" y="614.34" font-size="6.5" fill="#2e2e2e" stroke="#2e2e2e" stroke-width="0.12" text-anchor="middle">IMAT</text>
<text x="208.7" y="614.34" font-size="6.5" fill="#2e2e2e" stroke="#2e2e2e" stroke-width="0.12" text-anchor="middle">NIL</text>
<text x="223.5" y="614.34" font-size="6.5" fill="#2e2e2e" stroke="#2e2e2e" stroke-width="0.12" text-anchor="middle">DAS</text>
<text x="238.4" y="614.34" font-size="6.5" fill="#2e2e2e" stroke="#2e2e2e" stroke-width="0.12" text-anchor="middle">PON</text>
<line x1="60" y1="618.2" x2="134.6" y2="618.2" stroke="#555" stroke-width="0.8"/>
<line x1="60" y1="615.9" x2="60" y2="618.2" stroke="#555" stroke-width="0.8"/>
<line x1="134.6" y1="615.9" x2="134.6" y2="618.2" stroke="#555" stroke-width="0.8"/>
<line x1="163.8" y1="618.3" x2="239" y2="618.3" stroke="#555" stroke-width="0.8"/>
<line x1="163.8" y1="616.2" x2="163.8" y2="618.3" stroke="#555" stroke-width="0.8"/>
<line x1="239" y1="616.2" x2="239" y2="618.3" stroke="#555" stroke-width="0.8"/>
<text x="74" y="627.58" font-size="6.6" fill="#333" stroke="#333" stroke-width="0.12" textLength="48.1" lengthAdjust="spacingAndGlyphs"><tspan font-style="italic">BCR::ABL1</tspan> p190</text>
<text x="179.5" y="627.58" font-size="6.6" fill="#333" stroke="#333" stroke-width="0.12" textLength="46.1" lengthAdjust="spacingAndGlyphs"><tspan font-style="italic">BCR::ABL1</tspan> p210</text>
<text x="591.4" y="29" font-size="9.4" fill="#333" stroke="#333" stroke-width="0.12" transform="translate(29 591.4) rotate(-90) translate(-591.4 -29)" textLength="42.4" lengthAdjust="spacingAndGlyphs"><tspan>MFI of pSTAT5</tspan></text>
<line x1="309.3" y1="538.8" x2="309.3" y2="602.2" stroke="#1e1e1e" stroke-width="1.4"/>
<line x1="306.5" y1="541.1" x2="309.3" y2="541.1" stroke="#1e1e1e" stroke-width="1.4"/>
<text x="303.5" y="543.37" font-size="6.3" fill="#2e2e2e" stroke="#2e2e2e" stroke-width="0.12" text-anchor="end">2000</text>
<line x1="306.5" y1="556.4" x2="309.3" y2="556.4" stroke="#1e1e1e" stroke-width="1.4"/>
<text x="303.5" y="558.67" font-size="6.3" fill="#2e2e2e" stroke="#2e2e2e" stroke-width="0.12" text-anchor="end">1500</text>
<line x1="306.5" y1="571.5" x2="309.3" y2="571.5" stroke="#1e1e1e" stroke-width="1.4"/>
<text x="303.5" y="573.77" font-size="6.3" fill="#2e2e2e" stroke="#2e2e2e" stroke-width="0.12" text-anchor="end">1000</text>
<line x1="306.5" y1="586.9" x2="309.3" y2="586.9" stroke="#1e1e1e" stroke-width="1.4"/>
<text x="303.5" y="589.17" font-size="6.3" fill="#2e2e2e" stroke="#2e2e2e" stroke-width="0.12" text-anchor="end">500</text>
<line x1="306.5" y1="602.2" x2="309.3" y2="602.2" stroke="#1e1e1e" stroke-width="1.4"/>
<text x="303.5" y="604.47" font-size="6.3" fill="#2e2e2e" stroke="#2e2e2e" stroke-width="0.12" text-anchor="end">0</text>
<rect x="313.9" y="570" width="9.9" height="32.2" fill="#f4a8cc"/>
<rect x="329.2" y="586.1" width="9.9" height="16.1" fill="#a3b2d8"/>
<rect x="344.4" y="595.4" width="9.5" height="6.8" fill="#e6e6ea"/>
<rect x="359.2" y="591.8" width="9.6" height="10.4" fill="#fdd6a3"/>
<rect x="374" y="597" width="9.6" height="5.2" fill="#fde6a3"/>
<rect x="388.9" y="596" width="9.5" height="6.2" fill="#d9c2a6"/>
<rect x="418.1" y="577.2" width="9.7" height="25" fill="#f4a8cc"/>
<rect x="433.2" y="586.3" width="9.5" height="15.9" fill="#a3b2d8"/>
<rect x="448" y="592.3" width="9.5" height="9.9" fill="#e6e6ea"/>
<rect x="462.9" y="590.3" width="9.3" height="11.9" fill="#fdd6a3"/>
<rect x="477.2" y="594.3" width="9" height="7.9" fill="#fde6a3"/>
<rect x="492.4" y="598.4" width="9.5" height="3.8" fill="#d9c2a6"/>
<line x1="308" y1="602.2" x2="508" y2="602.2" stroke="#1e1e1e" stroke-width="1.4"/>
<line x1="318.8" y1="602.2" x2="318.8" y2="604.7" stroke="#1e1e1e" stroke-width="1.4"/>
<line x1="334.2" y1="602.2" x2="334.2" y2="604.7" stroke="#1e1e1e" stroke-width="1.4"/>
<line x1="349.1" y1="602.2" x2="349.1" y2="604.7" stroke="#1e1e1e" stroke-width="1.4"/>
<line x1="364" y1="602.2" x2="364" y2="604.7" stroke="#1e1e1e" stroke-width="1.4"/>
<line x1="378.8" y1="602.2" x2="378.8" y2="604.7" stroke="#1e1e1e" stroke-width="1.4"/>
<line x1="393.6" y1="602.2" x2="393.6" y2="604.7" stroke="#1e1e1e" stroke-width="1.4"/>
<line x1="423" y1="602.2" x2="423" y2="604.7" stroke="#1e1e1e" stroke-width="1.4"/>
<line x1="438" y1="602.2" x2="438" y2="604.7" stroke="#1e1e1e" stroke-width="1.4"/>
<line x1="452.7" y1="602.2" x2="452.7" y2="604.7" stroke="#1e1e1e" stroke-width="1.4"/>
<line x1="467.6" y1="602.2" x2="467.6" y2="604.7" stroke="#1e1e1e" stroke-width="1.4"/>
<line x1="481.7" y1="602.2" x2="481.7" y2="604.7" stroke="#1e1e1e" stroke-width="1.4"/>
<line x1="497" y1="602.2" x2="497" y2="604.7" stroke="#1e1e1e" stroke-width="1.4"/>
<line x1="318.8" y1="558.7" x2="318.8" y2="581.6" stroke="#d8157a" stroke-width="0.8"/>
<line x1="316.6" y1="558.7" x2="321" y2="558.7" stroke="#d8157a" stroke-width="0.8"/>
<line x1="316.6" y1="581.6" x2="321" y2="581.6" stroke="#d8157a" stroke-width="0.8"/>
<rect x="317.8" y="552.8" width="2.4" height="2.4" fill="none" stroke="#d8157a" stroke-width="0.6"/>
<path d="M316.5 563.2L317.8 565.54L315.2 565.54Z" fill="#d8157a"/>
<path d="M321.5 562.2L322.8 564.54L320.2 564.54Z" fill="#d8157a"/>
<circle cx="321.5" cy="566.5" r="1" fill="#d8157a"/>
<circle cx="319" cy="573" r="1" fill="#d8157a"/>
<circle cx="319" cy="580" r="1" fill="#d8157a"/>
<path d="M316 582.7L317.3 585.04L314.7 585.04Z" fill="#d8157a"/>
<path d="M321.5 581.7L322.8 584.04L320.2 584.04Z" fill="#d8157a"/>
<line x1="334.2" y1="580.2" x2="334.2" y2="586.1" stroke="#23427f" stroke-width="0.8"/>
<line x1="332" y1="580.2" x2="336.4" y2="580.2" stroke="#23427f" stroke-width="0.8"/>
<rect x="330.1" y="571.6" width="2.2" height="2.2" fill="none" stroke="#23427f" stroke-width="0.6"/>
<rect x="335.4" y="571.6" width="2.2" height="2.2" fill="none" stroke="#23427f" stroke-width="0.6"/>
<circle cx="334.2" cy="582" r="1" fill="#23427f"/>
<circle cx="331.5" cy="590" r="1" fill="#23427f"/>
<circle cx="336.5" cy="592" r="1" fill="#23427f"/>
<circle cx="333" cy="597" r="1" fill="#23427f"/>
<circle cx="336" cy="599" r="1" fill="#23427f"/>
<path d="M334.2 592.7L335.5 595.04L332.9 595.04Z" fill="#23427f"/>
<rect x="345.5" y="591" width="2" height="2" fill="none" stroke="#a8a8b0" stroke-width="0.6"/>
<rect x="350.5" y="589.5" width="2" height="2" fill="none" stroke="#a8a8b0" stroke-width="0.6"/>
<rect x="348" y="594" width="2" height="2" fill="none" stroke="#a8a8b0" stroke-width="0.6"/>
<rect x="345" y="597.5" width="2" height="2" fill="none" stroke="#a8a8b0" stroke-width="0.6"/>
<rect x="351" y="597" width="2" height="2" fill="none" stroke="#a8a8b0" stroke-width="0.6"/>
<line x1="364" y1="588.5" x2="364" y2="591.8" stroke="#f0951e" stroke-width="0.8"/>
<line x1="361.8" y1="588.5" x2="366.2" y2="588.5" stroke="#f0951e" stroke-width="0.8"/>
<circle cx="361.5" cy="590.5" r="1" fill="#f0951e"/>
<circle cx="366.5" cy="591" r="1" fill="#f0951e"/>
<circle cx="364" cy="594" r="1" fill="#f0951e"/>
<circle cx="361" cy="597" r="1" fill="#f0951e"/>
<circle cx="367" cy="596.5" r="1" fill="#f0951e"/>
<circle cx="364" cy="600" r="1" fill="#f0951e"/>
<line x1="378.8" y1="592" x2="378.8" y2="597" stroke="#f2b61c" stroke-width="0.8"/>
<line x1="376.8" y1="592" x2="380.8" y2="592" stroke="#f2b61c" stroke-width="0.8"/>
<circle cx="376.5" cy="596.5" r="1" fill="#f2b61c"/>
<circle cx="381" cy="595.5" r="1" fill="#f2b61c"/>
<circle cx="378.8" cy="598.5" r="1" fill="#f2b61c"/>
<circle cx="376" cy="600.5" r="1" fill="#f2b61c"/>
<circle cx="381.5" cy="600" r="1" fill="#f2b61c"/>
<circle cx="378.8" cy="590" r="0.9" fill="#f2b61c"/>
<line x1="393.6" y1="593.5" x2="393.6" y2="596" stroke="#6e4a2c" stroke-width="0.8"/>
<line x1="391.6" y1="593.5" x2="395.6" y2="593.5" stroke="#6e4a2c" stroke-width="0.8"/>
<circle cx="391" cy="596.5" r="1" fill="#6e4a2c"/>
<circle cx="396" cy="595.5" r="1" fill="#6e4a2c"/>
<circle cx="393.6" cy="598.5" r="1" fill="#6e4a2c"/>
<circle cx="391.5" cy="600.5" r="1" fill="#6e4a2c"/>
<circle cx="396" cy="600.5" r="1" fill="#6e4a2c"/>
<circle cx="420.5" cy="578" r="1" fill="#d8157a"/>
<circle cx="423" cy="576.5" r="1" fill="#d8157a"/>
<circle cx="425.5" cy="578" r="1" fill="#d8157a"/>
<circle cx="423" cy="581" r="1" fill="#d8157a"/>
<circle cx="421" cy="584" r="1" fill="#d8157a"/>
<circle cx="425" cy="584" r="1" fill="#d8157a"/>
<circle cx="435.5" cy="586.5" r="0.9" fill="#23427f"/>
<circle cx="438" cy="585.5" r="0.9" fill="#23427f"/>
<circle cx="440.5" cy="586.5" r="0.9" fill="#23427f"/>
<circle cx="438" cy="589" r="0.9" fill="#23427f"/>
<rect x="449.5" y="591.5" width="2" height="2" fill="none" stroke="#a8a8b0" stroke-width="0.6"/>
<rect x="454" y="591.5" width="2" height="2" fill="none" stroke="#a8a8b0" stroke-width="0.6"/>
<rect x="451.7" y="594.5" width="2" height="2" fill="none" stroke="#a8a8b0" stroke-width="0.6"/>
<circle cx="465" cy="590.5" r="0.9" fill="#f0951e"/>
<circle cx="470" cy="590.5" r="0.9" fill="#f0951e"/>
<circle cx="467.6" cy="593.5" r="0.9" fill="#f0951e"/>
<circle cx="481.7" cy="594.5" r="1" fill="#f2b61c"/>
<circle cx="481.7" cy="598" r="1" fill="#f2b61c"/>
<circle cx="494.5" cy="598.2" r="0.9" fill="#6e4a2c"/>
<circle cx="498" cy="597.8" r="0.9" fill="#6e4a2c"/>
<circle cx="500" cy="598.6" r="0.9" fill="#6e4a2c"/>
<text x="326.4" y="570.42" font-size="7" fill="#333" stroke="#333" stroke-width="0.12" textLength="15.9" lengthAdjust="spacingAndGlyphs">*51%</text>
<text x="338" y="579.72" font-size="7" fill="#333" stroke="#333" stroke-width="0.12" textLength="21.7" lengthAdjust="spacingAndGlyphs">***83%</text>
<text x="352.9" y="586.72" font-size="7" fill="#333" stroke="#333" stroke-width="0.12" textLength="21.6" lengthAdjust="spacingAndGlyphs">***76%</text>
<text x="367.7" y="576.72" font-size="7" fill="#333" stroke="#333" stroke-width="0.12" textLength="21.2" lengthAdjust="spacingAndGlyphs">***89%</text>
<text x="382.5" y="585.22" font-size="7" fill="#333" stroke="#333" stroke-width="0.12" textLength="21.6" lengthAdjust="spacingAndGlyphs">***84%</text>
<text x="430.2" y="584.52" font-size="7" fill="#333" stroke="#333" stroke-width="0.12" textLength="15.8" lengthAdjust="spacingAndGlyphs">*37%</text>
<text x="444.3" y="590.62" font-size="7" fill="#333" stroke="#333" stroke-width="0.12" textLength="17.2" lengthAdjust="spacingAndGlyphs">**66%</text>
<text x="459.5" y="583.92" font-size="7" fill="#333" stroke="#333" stroke-width="0.12" textLength="15.5" lengthAdjust="spacingAndGlyphs">*52%</text>
<text x="473.6" y="593.62" font-size="7" fill="#333" stroke="#333" stroke-width="0.12" textLength="17.6" lengthAdjust="spacingAndGlyphs">**85%</text>
<text x="488.8" y="586.52" font-size="7" fill="#333" stroke="#333" stroke-width="0.12" textLength="17.8" lengthAdjust="spacingAndGlyphs">**84%</text>
<text x="393" y="590.98" font-size="6.6" fill="#333" stroke="#333" stroke-width="0.12" text-anchor="middle">*</text>
<text x="318.8" y="614.34" font-size="6.5" fill="#2e2e2e" stroke="#2e2e2e" stroke-width="0.12" text-anchor="middle">UT</text>
<text x="334.2" y="614.34" font-size="6.5" fill="#2e2e2e" stroke="#2e2e2e" stroke-width="0.12" text-anchor="middle">ASC</text>
<text x="349.1" y="614.34" font-size="6.5" fill="#2e2e2e" stroke="#2e2e2e" stroke-width="0.12" text-anchor="middle">IMAT</text>
<text x="364" y="614.34" font-size="6.5" fill="#2e2e2e" stroke="#2e2e2e" stroke-width="0.12" text-anchor="middle">NIL</text>
<text x="378.8" y="614.34" font-size="6.5" fill="#2e2e2e" stroke="#2e2e2e" stroke-width="0.12" text-anchor="middle">DAS</text>
<text x="393.6" y="614.34" font-size="6.5" fill="#2e2e2e" stroke="#2e2e2e" stroke-width="0.12" text-anchor="middle">PON</text>
<text x="423" y="614.34" font-size="6.5" fill="#2e2e2e" stroke="#2e2e2e" stroke-width="0.12" text-anchor="middle">UT</text>
<text x="438" y="614.34" font-size="6.5" fill="#2e2e2e" stroke="#2e2e2e" stroke-width="0.12" text-anchor="middle">ASC</text>
<text x="452.7" y="614.34" font-size="6.5" fill="#2e2e2e" stroke="#2e2e2e" stroke-width="0.12" text-anchor="middle">IMAT</text>
<text x="467.6" y="614.34" font-size="6.5" fill="#2e2e2e" stroke="#2e2e2e" stroke-width="0.12" text-anchor="middle">NIL</text>
<text x="481.7" y="614.34" font-size="6.5" fill="#2e2e2e" stroke="#2e2e2e" stroke-width="0.12" text-anchor="middle">DAS</text>
<text x="497" y="614.34" font-size="6.5" fill="#2e2e2e" stroke="#2e2e2e" stroke-width="0.12" text-anchor="middle">PON</text>
<line x1="318.6" y1="617.9" x2="393.1" y2="617.9" stroke="#555" stroke-width="0.8"/>
<line x1="318.6" y1="615.6" x2="318.6" y2="617.9" stroke="#555" stroke-width="0.8"/>
<line x1="393.1" y1="615.6" x2="393.1" y2="617.9" stroke="#555" stroke-width="0.8"/>
<line x1="423.1" y1="618.5" x2="496.9" y2="618.5" stroke="#555" stroke-width="0.8"/>
<line x1="423.1" y1="616.2" x2="423.1" y2="618.5" stroke="#555" stroke-width="0.8"/>
<line x1="496.9" y1="616.2" x2="496.9" y2="618.5" stroke="#555" stroke-width="0.8"/>
<text x="332.2" y="627.38" font-size="6.6" fill="#333" stroke="#333" stroke-width="0.12" textLength="48.6" lengthAdjust="spacingAndGlyphs"><tspan font-style="italic">BCR::ABL1</tspan> p190</text>
<text x="436.3" y="627.88" font-size="6.6" fill="#333" stroke="#333" stroke-width="0.12" textLength="46.4" lengthAdjust="spacingAndGlyphs"><tspan font-style="italic">BCR::ABL1</tspan> p210</text>
<text x="590.1" y="283.5" font-size="9.4" fill="#333" stroke="#333" stroke-width="0.12" transform="translate(283.5 590.1) rotate(-90) translate(-590.1 -283.5)" textLength="38.1" lengthAdjust="spacingAndGlyphs"><tspan>MFI of pCRKL</tspan></text>
<rect x="0.6" y="0.6" width="518.8" height="634.6" fill="none" stroke="#3d3d3d" stroke-width="1.3"/>
</svg>
</body></html>
